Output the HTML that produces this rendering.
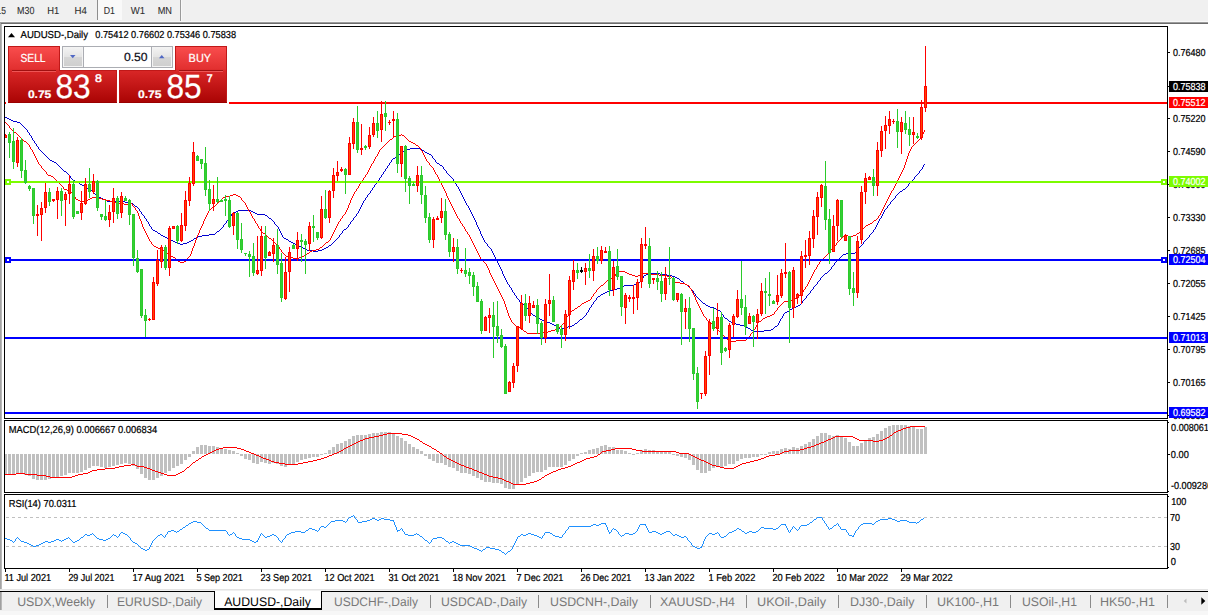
<!DOCTYPE html><html><head><meta charset="utf-8"><title>AUDUSD-,Daily</title>
<style>html,body{margin:0;padding:0;background:#fff;}body{width:1208px;height:615px;overflow:hidden;position:relative;font-family:"Liberation Sans", sans-serif;}svg{position:absolute;left:0;top:0;display:block}text{font-family:"Liberation Sans", sans-serif;white-space:pre;text-rendering:geometricPrecision}</style>
</head><body>
<svg width="1208" height="615" viewBox="0 0 1208 615">
<defs>
<linearGradient id="gr" x1="0" y1="0" x2="0" y2="1"><stop offset="0" stop-color="#f74a4a"/><stop offset="0.45" stop-color="#dc2626"/><stop offset="1" stop-color="#a80404"/></linearGradient>
<linearGradient id="gb" x1="0" y1="0" x2="0" y2="1"><stop offset="0" stop-color="#f2f2f2"/><stop offset="0.5" stop-color="#e4e4e4"/><stop offset="0.5" stop-color="#d6d6d6"/><stop offset="1" stop-color="#cfcfcf"/></linearGradient>
<linearGradient id="gt" x1="0" y1="0" x2="0" y2="1"><stop offset="0" stop-color="#b4b4b4"/><stop offset="1" stop-color="#6a6a6a"/></linearGradient>
</defs>
<g shape-rendering="crispEdges">
<rect x="0" y="0" width="1208" height="615" fill="#fff"/>
<rect x="0" y="0" width="1208" height="22" fill="#f0f0f0"/>
<rect x="98" y="0" width="24" height="20" fill="#f9f9f9"/>
<rect x="97" y="0" width="1" height="20" fill="#8e8e8e"/>
<rect x="180" y="0" width="1" height="22" fill="#9a9a9a"/>
<rect x="181" y="0" width="1" height="21" fill="#f8f8f8"/>
<rect x="0" y="21" width="1208" height="1" fill="#f8f8f8"/>
<rect x="0" y="22" width="1208" height="1" fill="#9c9c9c"/>
<rect x="0" y="23" width="1208" height="1" fill="#6c6c6c"/>
<rect x="0" y="23" width="1" height="567" fill="#a4a4a4"/>
<rect x="1" y="24" width="1" height="565" fill="#b8b8b8"/>
<rect x="0" y="589" width="1208" height="1" fill="#e4e4e4"/>
<rect x="0" y="590" width="1208" height="1" fill="#f0f0f0"/>
<rect x="0" y="591" width="1208" height="1" fill="#000"/>
<rect x="0" y="592" width="1208" height="19" fill="#f0f0f0"/>
<rect x="0" y="611" width="1208" height="4" fill="#f7f7f7"/>
<rect x="0" y="592" width="1" height="18" fill="#a0a0a0"/>
<rect x="1" y="592" width="1" height="18" fill="#b8b8b8"/>
<rect x="214" y="591" width="108" height="18" fill="#fff"/>
<rect x="214" y="591" width="1" height="19" fill="#000"/>
<rect x="321" y="591" width="1" height="19" fill="#000"/>
<rect x="214" y="608" width="108" height="2" fill="#000"/>
<rect x="4" y="26" width="1164" height="1" fill="#000"/>
<rect x="4" y="418" width="1164" height="1" fill="#000"/>
<rect x="4" y="26" width="1" height="393" fill="#000"/>
<rect x="1167" y="26" width="1" height="393" fill="#000"/>
<rect x="4" y="420" width="1164" height="1" fill="#000"/>
<rect x="4" y="492" width="1164" height="1" fill="#000"/>
<rect x="4" y="420" width="1" height="73" fill="#000"/>
<rect x="1167" y="420" width="1" height="73" fill="#000"/>
<rect x="4" y="494" width="1164" height="1" fill="#000"/>
<rect x="4" y="568" width="1164" height="1" fill="#000"/>
<rect x="4" y="494" width="1" height="75" fill="#000"/>
<rect x="1167" y="494" width="1" height="75" fill="#000"/>
</g>
<clipPath id="cm"><rect x="5" y="27" width="1162" height="391"/></clipPath>
<g clip-path="url(#cm)">
<path d="M5 117.5h2M7 118.5h2M9 119.5h2M11 120.5h2M13 121.5h4M17 122.5h3M20 123.5h1M21 124.5h1M22 125.5h1M23 126.5h1M24 127.5h1M25 128.5h1M26 129.5h1M27 130.5h1M27 131.5h1M28 132.5h1M29 133.5h1M29 134.5h1M30 135.5h1M31 136.5h1M31 137.5h1M32 138.5h1M32 139.5h1M33 140.5h1M34 141.5h1M34 142.5h1M35 143.5h1M36 144.5h1M36 145.5h1M37 146.5h1M38 147.5h1M38 148.5h1M410 148.5h10M39 149.5h1M407 149.5h3M420 149.5h2M40 150.5h1M405 150.5h2M422 150.5h2M41 151.5h1M403 151.5h2M424 151.5h1M42 152.5h1M402 152.5h1M425 152.5h2M43 153.5h1M400 153.5h2M427 153.5h2M44 154.5h1M399 154.5h1M429 154.5h2M45 155.5h1M398 155.5h1M431 155.5h1M46 156.5h1M396 156.5h2M432 156.5h1M47 157.5h1M395 157.5h1M432 157.5h1M48 158.5h1M393 158.5h2M433 158.5h1M49 159.5h1M392 159.5h1M434 159.5h1M50 160.5h2M391 160.5h1M435 160.5h1M52 161.5h2M391 161.5h1M435 161.5h1M54 162.5h2M390 162.5h1M436 162.5h1M56 163.5h1M389 163.5h1M437 163.5h2M57 164.5h1M389 164.5h1M439 164.5h1M924 164.5h1M58 165.5h1M388 165.5h1M440 165.5h2M923 165.5h1M59 166.5h1M387 166.5h1M442 166.5h1M923 166.5h1M60 167.5h1M387 167.5h1M443 167.5h1M922 167.5h1M61 168.5h1M386 168.5h1M443 168.5h1M922 168.5h1M62 169.5h1M385 169.5h1M444 169.5h1M921 169.5h1M63 170.5h1M385 170.5h1M445 170.5h1M920 170.5h1M64 171.5h2M384 171.5h1M446 171.5h1M919 171.5h1M66 172.5h1M383 172.5h1M446 172.5h1M919 172.5h1M67 173.5h1M383 173.5h1M447 173.5h1M918 173.5h1M68 174.5h1M382 174.5h1M448 174.5h1M917 174.5h1M69 175.5h1M381 175.5h1M449 175.5h1M916 175.5h1M70 176.5h1M381 176.5h1M450 176.5h1M915 176.5h1M70 177.5h1M380 177.5h1M451 177.5h1M914 177.5h1M71 178.5h1M379 178.5h1M452 178.5h1M914 178.5h1M72 179.5h1M379 179.5h1M453 179.5h1M913 179.5h1M73 180.5h2M378 180.5h1M453 180.5h1M912 180.5h1M75 181.5h2M377 181.5h1M454 181.5h1M911 181.5h1M77 182.5h2M377 182.5h1M454 182.5h1M910 182.5h1M79 183.5h1M376 183.5h1M455 183.5h1M909 183.5h1M80 184.5h2M375 184.5h1M456 184.5h1M908 184.5h1M82 185.5h2M374 185.5h1M456 185.5h1M908 185.5h1M84 186.5h1M374 186.5h1M457 186.5h1M907 186.5h1M85 187.5h2M373 187.5h1M458 187.5h1M906 187.5h1M87 188.5h2M372 188.5h1M458 188.5h1M905 188.5h1M89 189.5h1M372 189.5h1M459 189.5h1M903 189.5h2M90 190.5h2M371 190.5h1M459 190.5h1M902 190.5h1M92 191.5h1M370 191.5h1M460 191.5h1M900 191.5h2M93 192.5h1M370 192.5h1M460 192.5h1M899 192.5h1M94 193.5h1M369 193.5h1M461 193.5h1M898 193.5h1M95 194.5h2M368 194.5h1M461 194.5h1M897 194.5h1M97 195.5h1M367 195.5h1M462 195.5h1M896 195.5h1M98 196.5h1M367 196.5h1M462 196.5h1M895 196.5h1M99 197.5h2M366 197.5h1M463 197.5h1M895 197.5h1M101 198.5h2M365 198.5h1M463 198.5h1M894 198.5h1M103 199.5h2M365 199.5h1M464 199.5h1M893 199.5h1M105 200.5h2M364 200.5h1M464 200.5h1M892 200.5h1M107 201.5h18M363 201.5h1M465 201.5h1M891 201.5h1M125 202.5h6M363 202.5h1M465 202.5h1M890 202.5h1M131 203.5h2M362 203.5h1M466 203.5h1M890 203.5h1M133 204.5h1M362 204.5h1M466 204.5h1M889 204.5h1M134 205.5h1M361 205.5h1M467 205.5h1M888 205.5h1M135 206.5h2M361 206.5h1M468 206.5h1M887 206.5h1M137 207.5h1M360 207.5h1M468 207.5h1M887 207.5h1M138 208.5h1M360 208.5h1M469 208.5h1M886 208.5h1M139 209.5h1M359 209.5h1M469 209.5h1M885 209.5h1M139 210.5h1M238 210.5h13M359 210.5h1M470 210.5h1M884 210.5h1M140 211.5h1M236 211.5h2M251 211.5h2M358 211.5h1M470 211.5h1M884 211.5h1M141 212.5h1M234 212.5h2M253 212.5h2M358 212.5h1M471 212.5h1M883 212.5h1M141 213.5h1M232 213.5h2M255 213.5h2M357 213.5h1M471 213.5h1M883 213.5h1M142 214.5h1M231 214.5h1M257 214.5h8M356 214.5h1M472 214.5h1M882 214.5h1M143 215.5h1M231 215.5h1M265 215.5h2M356 215.5h1M472 215.5h1M882 215.5h1M144 216.5h1M230 216.5h1M267 216.5h1M355 216.5h1M473 216.5h1M881 216.5h1M144 217.5h1M229 217.5h1M268 217.5h1M354 217.5h1M473 217.5h1M881 217.5h1M145 218.5h1M229 218.5h1M269 218.5h2M353 218.5h1M474 218.5h1M880 218.5h1M146 219.5h1M228 219.5h1M271 219.5h1M353 219.5h1M474 219.5h1M879 219.5h1M146 220.5h1M227 220.5h1M272 220.5h1M352 220.5h1M475 220.5h1M879 220.5h1M147 221.5h1M226 221.5h1M273 221.5h1M351 221.5h1M475 221.5h1M878 221.5h1M148 222.5h1M226 222.5h1M274 222.5h1M350 222.5h1M476 222.5h1M878 222.5h1M148 223.5h1M225 223.5h1M274 223.5h1M350 223.5h1M476 223.5h1M877 223.5h1M149 224.5h1M224 224.5h1M275 224.5h1M349 224.5h1M476 224.5h1M877 224.5h1M149 225.5h1M223 225.5h1M276 225.5h1M348 225.5h1M477 225.5h1M876 225.5h1M150 226.5h1M223 226.5h1M277 226.5h1M348 226.5h1M477 226.5h1M876 226.5h1M151 227.5h1M222 227.5h1M278 227.5h1M347 227.5h1M478 227.5h1M875 227.5h1M151 228.5h1M221 228.5h1M278 228.5h1M346 228.5h1M478 228.5h1M875 228.5h1M152 229.5h1M220 229.5h1M279 229.5h1M344 229.5h2M479 229.5h1M874 229.5h1M153 230.5h2M219 230.5h1M279 230.5h1M343 230.5h1M479 230.5h1M873 230.5h1M155 231.5h2M217 231.5h2M280 231.5h1M342 231.5h1M480 231.5h1M873 231.5h1M157 232.5h1M216 232.5h1M280 232.5h1M342 232.5h1M480 232.5h1M872 232.5h1M158 233.5h2M215 233.5h1M281 233.5h1M341 233.5h1M480 233.5h1M871 233.5h1M160 234.5h1M209 234.5h6M281 234.5h1M340 234.5h1M481 234.5h1M870 234.5h1M161 235.5h2M202 235.5h7M282 235.5h1M339 235.5h1M481 235.5h1M869 235.5h1M163 236.5h2M198 236.5h4M282 236.5h1M339 236.5h1M482 236.5h1M869 236.5h1M165 237.5h2M196 237.5h2M283 237.5h1M338 237.5h1M482 237.5h1M868 237.5h1M167 238.5h2M194 238.5h2M284 238.5h2M337 238.5h1M483 238.5h1M867 238.5h1M169 239.5h2M193 239.5h1M286 239.5h2M336 239.5h1M483 239.5h1M866 239.5h1M171 240.5h2M191 240.5h2M288 240.5h1M335 240.5h1M484 240.5h1M865 240.5h1M173 241.5h2M189 241.5h2M289 241.5h2M334 241.5h1M484 241.5h1M864 241.5h1M175 242.5h3M187 242.5h2M291 242.5h2M333 242.5h1M485 242.5h1M863 242.5h1M178 243.5h2M183 243.5h4M293 243.5h2M332 243.5h1M486 243.5h1M863 243.5h1M180 244.5h3M295 244.5h2M331 244.5h1M487 244.5h1M862 244.5h1M297 245.5h2M329 245.5h2M487 245.5h1M861 245.5h1M299 246.5h2M328 246.5h1M488 246.5h1M860 246.5h1M301 247.5h2M326 247.5h2M489 247.5h1M859 247.5h1M303 248.5h2M324 248.5h2M490 248.5h1M858 248.5h1M305 249.5h2M322 249.5h2M491 249.5h1M857 249.5h1M307 250.5h6M318 250.5h4M491 250.5h1M856 250.5h1M313 251.5h5M492 251.5h1M856 251.5h1M492 252.5h1M855 252.5h1M493 253.5h1M846 253.5h9M493 254.5h1M843 254.5h3M494 255.5h1M842 255.5h1M494 256.5h1M841 256.5h1M495 257.5h1M840 257.5h1M495 258.5h1M839 258.5h1M496 259.5h1M838 259.5h1M496 260.5h1M837 260.5h1M497 261.5h1M836 261.5h1M497 262.5h1M835 262.5h1M498 263.5h1M834 263.5h1M498 264.5h1M834 264.5h1M499 265.5h1M833 265.5h1M499 266.5h1M832 266.5h1M500 267.5h1M831 267.5h1M500 268.5h1M831 268.5h1M501 269.5h1M830 269.5h1M501 270.5h1M829 270.5h1M502 271.5h1M828 271.5h1M502 272.5h1M827 272.5h1M502 273.5h1M649 273.5h11M825 273.5h2M503 274.5h1M646 274.5h3M660 274.5h7M824 274.5h1M503 275.5h1M644 275.5h2M667 275.5h5M823 275.5h1M504 276.5h1M643 276.5h1M672 276.5h3M822 276.5h1M504 277.5h1M643 277.5h1M675 277.5h2M821 277.5h1M505 278.5h1M642 278.5h1M677 278.5h2M820 278.5h1M505 279.5h1M641 279.5h1M679 279.5h1M820 279.5h1M506 280.5h1M640 280.5h1M680 280.5h1M819 280.5h1M506 281.5h1M640 281.5h1M681 281.5h2M818 281.5h1M507 282.5h1M638 282.5h2M683 282.5h1M817 282.5h1M507 283.5h1M636 283.5h2M684 283.5h1M817 283.5h1M508 284.5h1M634 284.5h2M685 284.5h2M816 284.5h1M509 285.5h1M624 285.5h10M687 285.5h1M815 285.5h1M509 286.5h1M622 286.5h2M688 286.5h1M814 286.5h1M510 287.5h1M620 287.5h2M689 287.5h1M813 287.5h1M511 288.5h1M617 288.5h3M690 288.5h1M813 288.5h1M511 289.5h1M613 289.5h4M691 289.5h1M812 289.5h1M512 290.5h1M609 290.5h4M692 290.5h1M811 290.5h1M512 291.5h1M607 291.5h2M693 291.5h1M810 291.5h1M513 292.5h1M605 292.5h2M693 292.5h1M810 292.5h1M514 293.5h1M603 293.5h2M694 293.5h1M809 293.5h1M514 294.5h1M601 294.5h2M695 294.5h1M808 294.5h1M515 295.5h1M600 295.5h1M695 295.5h1M807 295.5h1M516 296.5h1M598 296.5h2M696 296.5h1M806 296.5h1M516 297.5h1M597 297.5h1M697 297.5h1M806 297.5h1M517 298.5h1M596 298.5h1M698 298.5h1M805 298.5h1M518 299.5h1M596 299.5h1M699 299.5h1M804 299.5h1M519 300.5h1M595 300.5h1M700 300.5h1M803 300.5h1M519 301.5h1M594 301.5h1M701 301.5h1M802 301.5h1M520 302.5h1M593 302.5h1M702 302.5h1M802 302.5h1M521 303.5h1M593 303.5h1M703 303.5h2M801 303.5h1M522 304.5h2M592 304.5h1M705 304.5h1M800 304.5h1M524 305.5h1M591 305.5h1M706 305.5h2M798 305.5h2M525 306.5h1M591 306.5h1M708 306.5h2M796 306.5h2M526 307.5h1M590 307.5h1M710 307.5h4M794 307.5h2M527 308.5h1M589 308.5h1M714 308.5h2M792 308.5h2M528 309.5h1M589 309.5h1M716 309.5h2M790 309.5h2M529 310.5h1M588 310.5h1M718 310.5h2M789 310.5h1M529 311.5h1M588 311.5h1M720 311.5h1M787 311.5h2M530 312.5h1M587 312.5h1M721 312.5h1M785 312.5h2M531 313.5h1M586 313.5h1M721 313.5h1M784 313.5h1M532 314.5h1M586 314.5h1M722 314.5h1M783 314.5h1M533 315.5h2M585 315.5h1M723 315.5h1M783 315.5h1M535 316.5h2M584 316.5h1M723 316.5h1M782 316.5h1M537 317.5h1M583 317.5h1M724 317.5h1M782 317.5h1M538 318.5h2M582 318.5h1M725 318.5h2M781 318.5h1M540 319.5h2M580 319.5h2M727 319.5h1M780 319.5h1M542 320.5h3M579 320.5h1M728 320.5h1M780 320.5h1M545 321.5h2M578 321.5h1M729 321.5h2M779 321.5h1M547 322.5h3M577 322.5h1M731 322.5h2M779 322.5h1M550 323.5h2M575 323.5h2M733 323.5h3M778 323.5h1M552 324.5h2M574 324.5h1M736 324.5h4M778 324.5h1M554 325.5h2M572 325.5h2M740 325.5h4M777 325.5h1M556 326.5h1M568 326.5h4M744 326.5h2M775 326.5h2M557 327.5h2M564 327.5h4M746 327.5h2M774 327.5h1M559 328.5h1M562 328.5h2M748 328.5h2M773 328.5h1M560 329.5h2M750 329.5h1M771 329.5h2M751 330.5h2M764 330.5h7M753 331.5h11" fill="none" stroke="#0000d0" stroke-width="1" shape-rendering="crispEdges"/>
<path d="M5 122.5h1M6 123.5h1M7 124.5h1M8 125.5h1M9 126.5h1M9 127.5h1M10 128.5h1M11 129.5h1M12 130.5h1M924 130.5h1M13 131.5h1M924 131.5h1M14 132.5h2M923 132.5h1M16 133.5h1M923 133.5h1M17 134.5h1M401 134.5h1M922 134.5h1M18 135.5h1M399 135.5h2M402 135.5h2M922 135.5h1M19 136.5h1M394 136.5h5M404 136.5h1M921 136.5h1M20 137.5h1M393 137.5h1M405 137.5h1M921 137.5h1M21 138.5h1M392 138.5h1M406 138.5h1M920 138.5h1M22 139.5h1M390 139.5h2M407 139.5h1M919 139.5h1M23 140.5h1M389 140.5h1M408 140.5h1M918 140.5h1M24 141.5h2M388 141.5h1M409 141.5h2M917 141.5h1M26 142.5h1M387 142.5h1M411 142.5h2M916 142.5h1M27 143.5h1M386 143.5h1M413 143.5h2M915 143.5h1M28 144.5h1M385 144.5h1M415 144.5h1M914 144.5h1M29 145.5h1M384 145.5h1M416 145.5h2M913 145.5h1M29 146.5h1M383 146.5h1M418 146.5h1M912 146.5h1M30 147.5h1M382 147.5h1M419 147.5h1M911 147.5h1M30 148.5h1M381 148.5h1M420 148.5h1M911 148.5h1M31 149.5h1M380 149.5h1M420 149.5h1M910 149.5h1M32 150.5h1M379 150.5h1M421 150.5h1M910 150.5h1M32 151.5h1M379 151.5h1M422 151.5h1M909 151.5h1M33 152.5h1M378 152.5h1M422 152.5h1M909 152.5h1M33 153.5h1M378 153.5h1M423 153.5h1M908 153.5h1M34 154.5h1M377 154.5h1M423 154.5h1M908 154.5h1M34 155.5h1M377 155.5h1M424 155.5h1M908 155.5h1M35 156.5h1M376 156.5h1M424 156.5h1M907 156.5h1M35 157.5h1M375 157.5h1M425 157.5h1M907 157.5h1M36 158.5h1M375 158.5h1M425 158.5h1M907 158.5h1M36 159.5h1M374 159.5h1M426 159.5h1M906 159.5h1M37 160.5h1M374 160.5h1M426 160.5h1M906 160.5h1M37 161.5h1M373 161.5h1M427 161.5h1M906 161.5h1M38 162.5h1M373 162.5h1M428 162.5h1M905 162.5h1M38 163.5h1M372 163.5h1M429 163.5h1M905 163.5h1M39 164.5h1M371 164.5h1M429 164.5h1M905 164.5h1M40 165.5h1M371 165.5h1M430 165.5h1M904 165.5h1M41 166.5h1M370 166.5h1M431 166.5h1M904 166.5h1M41 167.5h1M370 167.5h1M432 167.5h1M904 167.5h1M42 168.5h1M369 168.5h1M433 168.5h1M903 168.5h1M43 169.5h1M369 169.5h1M433 169.5h1M903 169.5h1M44 170.5h1M368 170.5h1M434 170.5h1M902 170.5h1M45 171.5h1M368 171.5h1M434 171.5h1M902 171.5h1M46 172.5h1M367 172.5h1M435 172.5h1M901 172.5h1M46 173.5h1M367 173.5h1M435 173.5h1M901 173.5h1M47 174.5h1M366 174.5h1M436 174.5h1M900 174.5h1M48 175.5h3M365 175.5h1M437 175.5h1M900 175.5h1M51 176.5h2M365 176.5h1M437 176.5h1M899 176.5h1M53 177.5h1M364 177.5h1M438 177.5h1M899 177.5h1M54 178.5h1M363 178.5h1M438 178.5h1M898 178.5h1M55 179.5h1M363 179.5h1M439 179.5h1M898 179.5h1M56 180.5h1M362 180.5h1M439 180.5h1M897 180.5h1M57 181.5h1M361 181.5h1M440 181.5h1M897 181.5h1M58 182.5h1M361 182.5h1M440 182.5h1M896 182.5h1M59 183.5h1M360 183.5h1M441 183.5h1M896 183.5h1M60 184.5h1M359 184.5h1M441 184.5h1M895 184.5h1M61 185.5h1M359 185.5h1M442 185.5h1M895 185.5h1M62 186.5h1M358 186.5h1M442 186.5h1M894 186.5h1M63 187.5h1M358 187.5h1M443 187.5h1M894 187.5h1M63 188.5h1M357 188.5h1M443 188.5h1M893 188.5h1M64 189.5h3M356 189.5h1M444 189.5h1M893 189.5h1M67 190.5h2M356 190.5h1M444 190.5h1M892 190.5h1M69 191.5h2M355 191.5h1M445 191.5h1M891 191.5h1M71 192.5h1M354 192.5h1M445 192.5h1M891 192.5h1M72 193.5h1M354 193.5h1M446 193.5h1M890 193.5h1M73 194.5h1M233 194.5h3M353 194.5h1M446 194.5h1M890 194.5h1M73 195.5h1M230 195.5h3M236 195.5h2M353 195.5h1M446 195.5h1M889 195.5h1M74 196.5h1M226 196.5h4M238 196.5h2M352 196.5h1M447 196.5h1M889 196.5h1M75 197.5h1M92 197.5h6M223 197.5h3M240 197.5h1M352 197.5h1M447 197.5h1M888 197.5h1M75 198.5h1M90 198.5h2M98 198.5h4M222 198.5h1M241 198.5h1M351 198.5h1M448 198.5h1M888 198.5h1M76 199.5h2M88 199.5h2M102 199.5h4M221 199.5h1M241 199.5h1M351 199.5h1M448 199.5h1M887 199.5h1M78 200.5h2M84 200.5h4M106 200.5h4M220 200.5h1M242 200.5h1M350 200.5h1M449 200.5h1M887 200.5h1M80 201.5h4M110 201.5h5M219 201.5h1M243 201.5h1M350 201.5h1M449 201.5h1M886 201.5h1M115 202.5h4M218 202.5h1M244 202.5h1M350 202.5h1M450 202.5h1M886 202.5h1M119 203.5h5M129 203.5h3M217 203.5h1M245 203.5h1M349 203.5h1M450 203.5h1M885 203.5h1M124 204.5h5M132 204.5h1M216 204.5h1M245 204.5h1M349 204.5h1M451 204.5h1M885 204.5h1M132 205.5h1M215 205.5h1M246 205.5h1M348 205.5h1M451 205.5h1M884 205.5h1M133 206.5h1M213 206.5h2M246 206.5h1M348 206.5h1M452 206.5h1M884 206.5h1M134 207.5h1M212 207.5h1M247 207.5h1M348 207.5h1M452 207.5h1M883 207.5h1M135 208.5h1M211 208.5h1M247 208.5h1M347 208.5h1M453 208.5h1M883 208.5h1M135 209.5h1M210 209.5h1M248 209.5h1M347 209.5h1M453 209.5h1M882 209.5h1M136 210.5h1M209 210.5h1M248 210.5h1M346 210.5h1M454 210.5h1M882 210.5h1M137 211.5h1M208 211.5h1M249 211.5h1M346 211.5h1M454 211.5h1M881 211.5h1M137 212.5h1M208 212.5h1M250 212.5h1M345 212.5h1M455 212.5h1M881 212.5h1M138 213.5h1M207 213.5h1M250 213.5h1M345 213.5h1M455 213.5h1M880 213.5h1M138 214.5h1M207 214.5h1M251 214.5h1M344 214.5h1M456 214.5h1M880 214.5h1M138 215.5h1M206 215.5h1M251 215.5h1M343 215.5h1M456 215.5h1M879 215.5h1M139 216.5h1M206 216.5h1M252 216.5h1M342 216.5h1M457 216.5h1M878 216.5h1M139 217.5h1M205 217.5h1M252 217.5h1M342 217.5h1M457 217.5h1M878 217.5h1M139 218.5h1M205 218.5h1M253 218.5h1M341 218.5h1M458 218.5h1M877 218.5h1M140 219.5h1M204 219.5h1M254 219.5h1M340 219.5h1M459 219.5h1M876 219.5h1M140 220.5h1M204 220.5h1M254 220.5h1M340 220.5h1M459 220.5h1M874 220.5h2M141 221.5h1M203 221.5h1M255 221.5h1M339 221.5h1M460 221.5h1M873 221.5h1M141 222.5h1M203 222.5h1M255 222.5h1M338 222.5h1M460 222.5h1M872 222.5h1M141 223.5h1M203 223.5h1M256 223.5h1M338 223.5h1M461 223.5h1M870 223.5h2M142 224.5h1M202 224.5h1M257 224.5h1M337 224.5h1M462 224.5h1M868 224.5h2M142 225.5h1M202 225.5h1M257 225.5h1M337 225.5h1M462 225.5h1M866 225.5h2M142 226.5h1M201 226.5h1M258 226.5h1M336 226.5h1M463 226.5h1M865 226.5h1M143 227.5h1M201 227.5h1M258 227.5h1M336 227.5h1M464 227.5h1M864 227.5h1M143 228.5h1M200 228.5h1M259 228.5h1M335 228.5h1M464 228.5h1M863 228.5h1M144 229.5h1M200 229.5h1M260 229.5h1M335 229.5h1M465 229.5h1M862 229.5h1M144 230.5h1M199 230.5h1M260 230.5h1M334 230.5h1M465 230.5h1M861 230.5h1M145 231.5h1M199 231.5h1M261 231.5h1M334 231.5h1M466 231.5h1M860 231.5h1M145 232.5h1M199 232.5h1M262 232.5h1M333 232.5h1M467 232.5h1M859 232.5h1M146 233.5h1M198 233.5h1M263 233.5h2M333 233.5h1M467 233.5h1M857 233.5h2M146 234.5h1M198 234.5h1M265 234.5h1M332 234.5h1M468 234.5h1M856 234.5h1M147 235.5h1M197 235.5h1M266 235.5h1M332 235.5h1M469 235.5h1M844 235.5h4M853 235.5h3M147 236.5h1M197 236.5h1M267 236.5h1M331 236.5h1M469 236.5h1M843 236.5h1M848 236.5h5M148 237.5h1M196 237.5h1M268 237.5h1M331 237.5h1M470 237.5h1M842 237.5h1M148 238.5h1M196 238.5h1M269 238.5h2M330 238.5h1M470 238.5h1M841 238.5h1M149 239.5h1M196 239.5h1M271 239.5h1M330 239.5h1M471 239.5h1M840 239.5h1M149 240.5h1M195 240.5h1M272 240.5h1M329 240.5h1M471 240.5h1M839 240.5h1M150 241.5h1M195 241.5h1M273 241.5h1M328 241.5h1M472 241.5h1M838 241.5h1M151 242.5h1M195 242.5h1M274 242.5h1M326 242.5h2M472 242.5h1M837 242.5h1M151 243.5h1M194 243.5h1M275 243.5h1M325 243.5h1M473 243.5h1M836 243.5h1M152 244.5h1M194 244.5h1M276 244.5h1M324 244.5h1M473 244.5h1M836 244.5h1M153 245.5h1M194 245.5h1M277 245.5h1M323 245.5h1M474 245.5h1M835 245.5h1M154 246.5h2M193 246.5h1M278 246.5h1M322 246.5h1M474 246.5h1M834 246.5h1M156 247.5h2M193 247.5h1M279 247.5h1M320 247.5h2M475 247.5h1M833 247.5h1M158 248.5h2M192 248.5h1M279 248.5h1M319 248.5h1M475 248.5h1M832 248.5h1M160 249.5h2M192 249.5h1M280 249.5h1M316 249.5h3M476 249.5h1M831 249.5h1M162 250.5h2M192 250.5h1M281 250.5h1M312 250.5h4M476 250.5h1M830 250.5h1M164 251.5h2M191 251.5h1M281 251.5h1M310 251.5h2M477 251.5h1M830 251.5h1M166 252.5h1M191 252.5h1M282 252.5h1M309 252.5h1M477 252.5h1M829 252.5h1M167 253.5h1M191 253.5h1M283 253.5h1M307 253.5h2M478 253.5h1M828 253.5h1M168 254.5h1M190 254.5h1M284 254.5h1M306 254.5h1M478 254.5h1M827 254.5h1M169 255.5h1M190 255.5h1M285 255.5h1M304 255.5h2M479 255.5h1M826 255.5h1M170 256.5h3M189 256.5h1M286 256.5h3M302 256.5h2M479 256.5h1M825 256.5h1M173 257.5h2M188 257.5h1M289 257.5h4M299 257.5h3M480 257.5h1M824 257.5h1M175 258.5h1M187 258.5h1M293 258.5h6M480 258.5h1M823 258.5h1M176 259.5h1M187 259.5h1M481 259.5h1M822 259.5h1M177 260.5h1M186 260.5h1M482 260.5h1M821 260.5h1M178 261.5h2M184 261.5h2M483 261.5h1M820 261.5h1M180 262.5h4M484 262.5h1M819 262.5h1M485 263.5h1M819 263.5h1M486 264.5h1M818 264.5h1M486 265.5h1M817 265.5h1M487 266.5h1M817 266.5h1M487 267.5h1M816 267.5h1M488 268.5h1M816 268.5h1M488 269.5h1M815 269.5h1M489 270.5h1M814 270.5h1M489 271.5h1M618 271.5h7M814 271.5h1M489 272.5h1M617 272.5h1M625 272.5h2M813 272.5h1M490 273.5h1M616 273.5h1M627 273.5h2M642 273.5h9M813 273.5h1M490 274.5h1M615 274.5h1M629 274.5h3M640 274.5h2M651 274.5h8M812 274.5h1M491 275.5h1M615 275.5h1M632 275.5h3M638 275.5h2M659 275.5h8M812 275.5h1M491 276.5h1M614 276.5h1M635 276.5h3M667 276.5h4M811 276.5h1M492 277.5h1M613 277.5h1M671 277.5h1M811 277.5h1M492 278.5h1M611 278.5h2M672 278.5h1M810 278.5h1M493 279.5h1M609 279.5h2M672 279.5h1M810 279.5h1M493 280.5h1M607 280.5h2M673 280.5h1M809 280.5h1M494 281.5h1M606 281.5h1M674 281.5h1M809 281.5h1M494 282.5h1M605 282.5h1M675 282.5h5M808 282.5h1M495 283.5h1M604 283.5h1M680 283.5h5M808 283.5h1M495 284.5h1M603 284.5h1M685 284.5h2M807 284.5h1M496 285.5h1M601 285.5h2M687 285.5h2M807 285.5h1M496 286.5h1M600 286.5h1M689 286.5h1M806 286.5h1M497 287.5h1M599 287.5h1M689 287.5h1M805 287.5h1M497 288.5h1M598 288.5h1M690 288.5h1M805 288.5h1M498 289.5h1M597 289.5h1M691 289.5h1M804 289.5h1M498 290.5h1M596 290.5h1M691 290.5h1M803 290.5h1M499 291.5h1M596 291.5h1M692 291.5h1M803 291.5h1M499 292.5h1M595 292.5h1M692 292.5h1M802 292.5h1M500 293.5h1M594 293.5h1M693 293.5h1M801 293.5h1M500 294.5h1M593 294.5h1M693 294.5h1M800 294.5h1M501 295.5h1M593 295.5h1M694 295.5h1M799 295.5h1M501 296.5h1M592 296.5h1M694 296.5h1M798 296.5h1M502 297.5h1M591 297.5h1M695 297.5h1M797 297.5h1M502 298.5h1M591 298.5h1M695 298.5h1M795 298.5h2M503 299.5h1M590 299.5h1M695 299.5h1M793 299.5h2M503 300.5h1M588 300.5h2M696 300.5h1M788 300.5h5M504 301.5h1M586 301.5h2M696 301.5h1M784 301.5h4M504 302.5h1M584 302.5h2M697 302.5h1M783 302.5h1M504 303.5h1M582 303.5h2M697 303.5h1M782 303.5h1M505 304.5h1M581 304.5h1M698 304.5h1M781 304.5h1M505 305.5h1M580 305.5h1M698 305.5h1M780 305.5h1M505 306.5h1M578 306.5h2M699 306.5h1M779 306.5h1M506 307.5h1M577 307.5h1M699 307.5h1M778 307.5h1M506 308.5h1M575 308.5h2M700 308.5h1M777 308.5h1M506 309.5h1M574 309.5h1M700 309.5h1M777 309.5h1M507 310.5h1M572 310.5h2M701 310.5h1M776 310.5h1M507 311.5h1M571 311.5h1M701 311.5h1M775 311.5h1M507 312.5h1M570 312.5h1M702 312.5h1M774 312.5h1M508 313.5h1M569 313.5h1M702 313.5h1M774 313.5h1M508 314.5h1M569 314.5h1M703 314.5h1M772 314.5h2M508 315.5h1M568 315.5h1M703 315.5h1M770 315.5h2M509 316.5h1M567 316.5h1M704 316.5h1M767 316.5h3M509 317.5h1M566 317.5h1M705 317.5h1M765 317.5h2M510 318.5h1M566 318.5h1M706 318.5h1M763 318.5h2M510 319.5h1M565 319.5h1M706 319.5h1M762 319.5h1M511 320.5h1M565 320.5h1M707 320.5h1M761 320.5h1M511 321.5h1M564 321.5h1M708 321.5h1M759 321.5h2M512 322.5h1M564 322.5h1M709 322.5h2M758 322.5h1M513 323.5h1M563 323.5h1M711 323.5h1M757 323.5h1M514 324.5h1M562 324.5h1M712 324.5h1M757 324.5h1M515 325.5h1M561 325.5h1M713 325.5h1M756 325.5h1M516 326.5h2M560 326.5h1M714 326.5h1M756 326.5h1M518 327.5h2M559 327.5h1M715 327.5h1M755 327.5h1M520 328.5h2M558 328.5h1M716 328.5h1M755 328.5h1M522 329.5h1M555 329.5h3M717 329.5h1M754 329.5h1M523 330.5h1M551 330.5h4M718 330.5h1M753 330.5h1M524 331.5h2M548 331.5h3M719 331.5h1M753 331.5h1M526 332.5h1M543 332.5h5M720 332.5h1M752 332.5h1M527 333.5h16M721 333.5h1M751 333.5h1M722 334.5h1M750 334.5h1M723 335.5h1M750 335.5h1M724 336.5h1M749 336.5h1M725 337.5h1M748 337.5h1M726 338.5h1M747 338.5h1M727 339.5h2M746 339.5h1M729 340.5h2M736 340.5h10M731 341.5h5" fill="none" stroke="#ff0000" stroke-width="1" shape-rendering="crispEdges"/>
<g shape-rendering="crispEdges">
<rect x="229" y="102" width="938" height="2" fill="#ff0000"/><rect x="5" y="102" width="1" height="2" fill="#ff0000"/>
<rect x="5" y="181" width="1162" height="2" fill="#7cfc00"/>
<rect x="5" y="259" width="1162" height="2" fill="#0000ff"/>
<rect x="5" y="337" width="1162" height="2" fill="#0000ff"/>
<rect x="5" y="412" width="1162" height="2" fill="#0000ff"/>
<rect x="5" y="179" width="6" height="6" fill="#7cfc00"/><rect x="7" y="181" width="2" height="2" fill="#fff"/>
<rect x="1161" y="179" width="6" height="6" fill="#7cfc00"/><rect x="1163" y="181" width="2" height="2" fill="#fff"/>
<rect x="5" y="257" width="6" height="6" fill="#0000ff"/><rect x="7" y="259" width="2" height="2" fill="#fff"/>
<rect x="1161" y="257" width="6" height="6" fill="#0000ff"/><rect x="1163" y="259" width="2" height="2" fill="#fff"/>
</g>
<g shape-rendering="crispEdges">
<rect x="5" y="134" width="1" height="4" fill="#ff0000"/>
<rect x="4" y="135" width="3" height="3" fill="#ff0000"/>
<rect x="5" y="136" width="1" height="1" fill="#ff4500"/>
<rect x="9" y="132" width="1" height="26" fill="#2bca2b"/>
<rect x="8" y="134" width="3" height="9" fill="#2bca2b"/>
<rect x="9" y="135" width="1" height="7" fill="#34cf34"/>
<rect x="13" y="128" width="1" height="41" fill="#2bca2b"/>
<rect x="12" y="141" width="3" height="21" fill="#2bca2b"/>
<rect x="13" y="142" width="1" height="19" fill="#34cf34"/>
<rect x="17" y="137" width="1" height="30" fill="#ff0000"/>
<rect x="16" y="140" width="3" height="23" fill="#ff0000"/>
<rect x="17" y="141" width="1" height="21" fill="#ff4500"/>
<rect x="21" y="138" width="1" height="40" fill="#2bca2b"/>
<rect x="20" y="140" width="3" height="31" fill="#2bca2b"/>
<rect x="21" y="141" width="1" height="29" fill="#34cf34"/>
<rect x="25" y="160" width="1" height="24" fill="#2bca2b"/>
<rect x="24" y="170" width="3" height="13" fill="#2bca2b"/>
<rect x="25" y="171" width="1" height="11" fill="#34cf34"/>
<rect x="29" y="185" width="1" height="6" fill="#2bca2b"/>
<rect x="28" y="186" width="3" height="3" fill="#2bca2b"/>
<rect x="29" y="187" width="1" height="1" fill="#34cf34"/>
<rect x="33" y="188" width="1" height="36" fill="#2bca2b"/>
<rect x="32" y="188" width="3" height="28" fill="#2bca2b"/>
<rect x="33" y="189" width="1" height="26" fill="#34cf34"/>
<rect x="37" y="205" width="1" height="31" fill="#ff0000"/>
<rect x="36" y="214" width="3" height="2" fill="#ff0000"/>
<rect x="41" y="202" width="1" height="39" fill="#ff0000"/>
<rect x="40" y="208" width="3" height="7" fill="#ff0000"/>
<rect x="41" y="209" width="1" height="5" fill="#ff4500"/>
<rect x="45" y="183" width="1" height="30" fill="#ff0000"/>
<rect x="44" y="192" width="3" height="16" fill="#ff0000"/>
<rect x="45" y="193" width="1" height="14" fill="#ff4500"/>
<rect x="49" y="188" width="1" height="18" fill="#2bca2b"/>
<rect x="48" y="192" width="3" height="10" fill="#2bca2b"/>
<rect x="49" y="193" width="1" height="8" fill="#34cf34"/>
<rect x="53" y="199" width="1" height="3" fill="#ff0000"/>
<rect x="52" y="199" width="3" height="2" fill="#ff0000"/>
<rect x="57" y="187" width="1" height="32" fill="#ff0000"/>
<rect x="56" y="191" width="3" height="9" fill="#ff0000"/>
<rect x="57" y="192" width="1" height="7" fill="#ff4500"/>
<rect x="61" y="188" width="1" height="28" fill="#2bca2b"/>
<rect x="60" y="191" width="3" height="10" fill="#2bca2b"/>
<rect x="61" y="192" width="1" height="8" fill="#34cf34"/>
<rect x="65" y="192" width="1" height="34" fill="#ff0000"/>
<rect x="64" y="194" width="3" height="6" fill="#ff0000"/>
<rect x="65" y="195" width="1" height="4" fill="#ff4500"/>
<rect x="69" y="175" width="1" height="29" fill="#ff0000"/>
<rect x="68" y="184" width="3" height="10" fill="#ff0000"/>
<rect x="69" y="185" width="1" height="8" fill="#ff4500"/>
<rect x="73" y="180" width="1" height="39" fill="#2bca2b"/>
<rect x="72" y="184" width="3" height="33" fill="#2bca2b"/>
<rect x="73" y="185" width="1" height="31" fill="#34cf34"/>
<rect x="77" y="211" width="1" height="3" fill="#2bca2b"/>
<rect x="76" y="211" width="3" height="3" fill="#2bca2b"/>
<rect x="77" y="212" width="1" height="1" fill="#34cf34"/>
<rect x="81" y="191" width="1" height="29" fill="#ff0000"/>
<rect x="80" y="203" width="3" height="10" fill="#ff0000"/>
<rect x="81" y="204" width="1" height="8" fill="#ff4500"/>
<rect x="85" y="178" width="1" height="27" fill="#ff0000"/>
<rect x="84" y="184" width="3" height="20" fill="#ff0000"/>
<rect x="85" y="185" width="1" height="18" fill="#ff4500"/>
<rect x="89" y="168" width="1" height="30" fill="#2bca2b"/>
<rect x="88" y="184" width="3" height="8" fill="#2bca2b"/>
<rect x="89" y="185" width="1" height="6" fill="#34cf34"/>
<rect x="93" y="174" width="1" height="20" fill="#ff0000"/>
<rect x="92" y="181" width="3" height="11" fill="#ff0000"/>
<rect x="93" y="182" width="1" height="9" fill="#ff4500"/>
<rect x="97" y="180" width="1" height="31" fill="#2bca2b"/>
<rect x="96" y="181" width="3" height="27" fill="#2bca2b"/>
<rect x="97" y="182" width="1" height="25" fill="#34cf34"/>
<rect x="101" y="214" width="1" height="6" fill="#2bca2b"/>
<rect x="100" y="214" width="3" height="3" fill="#2bca2b"/>
<rect x="101" y="215" width="1" height="1" fill="#34cf34"/>
<rect x="105" y="200" width="1" height="21" fill="#2bca2b"/>
<rect x="104" y="216" width="3" height="4" fill="#2bca2b"/>
<rect x="105" y="217" width="1" height="2" fill="#34cf34"/>
<rect x="109" y="205" width="1" height="22" fill="#ff0000"/>
<rect x="108" y="212" width="3" height="8" fill="#ff0000"/>
<rect x="109" y="213" width="1" height="6" fill="#ff4500"/>
<rect x="113" y="188" width="1" height="35" fill="#ff0000"/>
<rect x="112" y="198" width="3" height="14" fill="#ff0000"/>
<rect x="113" y="199" width="1" height="12" fill="#ff4500"/>
<rect x="117" y="196" width="1" height="23" fill="#2bca2b"/>
<rect x="116" y="198" width="3" height="16" fill="#2bca2b"/>
<rect x="117" y="199" width="1" height="14" fill="#34cf34"/>
<rect x="121" y="192" width="1" height="26" fill="#ff0000"/>
<rect x="120" y="196" width="3" height="17" fill="#ff0000"/>
<rect x="121" y="197" width="1" height="15" fill="#ff4500"/>
<rect x="125" y="196" width="1" height="5" fill="#2bca2b"/>
<rect x="124" y="198" width="3" height="3" fill="#2bca2b"/>
<rect x="125" y="199" width="1" height="1" fill="#34cf34"/>
<rect x="129" y="199" width="1" height="26" fill="#2bca2b"/>
<rect x="128" y="200" width="3" height="15" fill="#2bca2b"/>
<rect x="129" y="201" width="1" height="13" fill="#34cf34"/>
<rect x="133" y="214" width="1" height="52" fill="#2bca2b"/>
<rect x="132" y="214" width="3" height="44" fill="#2bca2b"/>
<rect x="133" y="215" width="1" height="42" fill="#34cf34"/>
<rect x="137" y="250" width="1" height="23" fill="#2bca2b"/>
<rect x="136" y="258" width="3" height="14" fill="#2bca2b"/>
<rect x="137" y="259" width="1" height="12" fill="#34cf34"/>
<rect x="141" y="269" width="1" height="49" fill="#2bca2b"/>
<rect x="140" y="269" width="3" height="47" fill="#2bca2b"/>
<rect x="141" y="270" width="1" height="45" fill="#34cf34"/>
<rect x="145" y="309" width="1" height="28" fill="#2bca2b"/>
<rect x="144" y="315" width="3" height="6" fill="#2bca2b"/>
<rect x="145" y="316" width="1" height="4" fill="#34cf34"/>
<rect x="149" y="318" width="1" height="3" fill="#ff0000"/>
<rect x="148" y="319" width="3" height="1" fill="#ff0000"/>
<rect x="153" y="277" width="1" height="43" fill="#ff0000"/>
<rect x="152" y="282" width="3" height="38" fill="#ff0000"/>
<rect x="153" y="283" width="1" height="36" fill="#ff4500"/>
<rect x="157" y="250" width="1" height="36" fill="#ff0000"/>
<rect x="156" y="260" width="3" height="24" fill="#ff0000"/>
<rect x="157" y="261" width="1" height="22" fill="#ff4500"/>
<rect x="161" y="245" width="1" height="23" fill="#ff0000"/>
<rect x="160" y="247" width="3" height="15" fill="#ff0000"/>
<rect x="161" y="248" width="1" height="13" fill="#ff4500"/>
<rect x="165" y="245" width="1" height="25" fill="#2bca2b"/>
<rect x="164" y="247" width="3" height="21" fill="#2bca2b"/>
<rect x="165" y="248" width="1" height="19" fill="#34cf34"/>
<rect x="169" y="226" width="1" height="50" fill="#ff0000"/>
<rect x="168" y="228" width="3" height="40" fill="#ff0000"/>
<rect x="169" y="229" width="1" height="38" fill="#ff4500"/>
<rect x="173" y="226" width="1" height="3" fill="#ff0000"/>
<rect x="172" y="226" width="3" height="3" fill="#ff0000"/>
<rect x="173" y="227" width="1" height="1" fill="#ff4500"/>
<rect x="177" y="225" width="1" height="19" fill="#2bca2b"/>
<rect x="176" y="226" width="3" height="15" fill="#2bca2b"/>
<rect x="177" y="227" width="1" height="13" fill="#34cf34"/>
<rect x="181" y="213" width="1" height="29" fill="#ff0000"/>
<rect x="180" y="225" width="3" height="16" fill="#ff0000"/>
<rect x="181" y="226" width="1" height="14" fill="#ff4500"/>
<rect x="185" y="191" width="1" height="40" fill="#ff0000"/>
<rect x="184" y="200" width="3" height="26" fill="#ff0000"/>
<rect x="185" y="201" width="1" height="24" fill="#ff4500"/>
<rect x="189" y="177" width="1" height="29" fill="#ff0000"/>
<rect x="188" y="183" width="3" height="18" fill="#ff0000"/>
<rect x="189" y="184" width="1" height="16" fill="#ff4500"/>
<rect x="193" y="142" width="1" height="44" fill="#ff0000"/>
<rect x="192" y="152" width="3" height="32" fill="#ff0000"/>
<rect x="193" y="153" width="1" height="30" fill="#ff4500"/>
<rect x="197" y="155" width="1" height="6" fill="#2bca2b"/>
<rect x="196" y="156" width="3" height="5" fill="#2bca2b"/>
<rect x="197" y="157" width="1" height="3" fill="#34cf34"/>
<rect x="201" y="159" width="1" height="10" fill="#2bca2b"/>
<rect x="200" y="159" width="3" height="5" fill="#2bca2b"/>
<rect x="201" y="160" width="1" height="3" fill="#34cf34"/>
<rect x="205" y="147" width="1" height="49" fill="#2bca2b"/>
<rect x="204" y="163" width="3" height="27" fill="#2bca2b"/>
<rect x="205" y="164" width="1" height="25" fill="#34cf34"/>
<rect x="209" y="180" width="1" height="31" fill="#2bca2b"/>
<rect x="208" y="189" width="3" height="15" fill="#2bca2b"/>
<rect x="209" y="190" width="1" height="13" fill="#34cf34"/>
<rect x="213" y="185" width="1" height="26" fill="#ff0000"/>
<rect x="212" y="199" width="3" height="5" fill="#ff0000"/>
<rect x="213" y="200" width="1" height="3" fill="#ff4500"/>
<rect x="217" y="177" width="1" height="26" fill="#2bca2b"/>
<rect x="216" y="199" width="3" height="3" fill="#2bca2b"/>
<rect x="217" y="200" width="1" height="1" fill="#34cf34"/>
<rect x="221" y="199" width="1" height="3" fill="#2bca2b"/>
<rect x="220" y="200" width="3" height="2" fill="#2bca2b"/>
<rect x="225" y="195" width="1" height="21" fill="#2bca2b"/>
<rect x="224" y="199" width="3" height="2" fill="#2bca2b"/>
<rect x="229" y="196" width="1" height="32" fill="#2bca2b"/>
<rect x="228" y="200" width="3" height="27" fill="#2bca2b"/>
<rect x="229" y="201" width="1" height="25" fill="#34cf34"/>
<rect x="233" y="212" width="1" height="23" fill="#ff0000"/>
<rect x="232" y="213" width="3" height="13" fill="#ff0000"/>
<rect x="233" y="214" width="1" height="11" fill="#ff4500"/>
<rect x="237" y="212" width="1" height="37" fill="#2bca2b"/>
<rect x="236" y="213" width="3" height="27" fill="#2bca2b"/>
<rect x="237" y="214" width="1" height="25" fill="#34cf34"/>
<rect x="241" y="223" width="1" height="30" fill="#2bca2b"/>
<rect x="240" y="239" width="3" height="11" fill="#2bca2b"/>
<rect x="241" y="240" width="1" height="9" fill="#34cf34"/>
<rect x="245" y="253" width="1" height="3" fill="#2bca2b"/>
<rect x="244" y="253" width="3" height="1" fill="#2bca2b"/>
<rect x="249" y="251" width="1" height="26" fill="#2bca2b"/>
<rect x="248" y="254" width="3" height="3" fill="#2bca2b"/>
<rect x="249" y="255" width="1" height="1" fill="#34cf34"/>
<rect x="253" y="243" width="1" height="33" fill="#2bca2b"/>
<rect x="252" y="256" width="3" height="17" fill="#2bca2b"/>
<rect x="253" y="257" width="1" height="15" fill="#34cf34"/>
<rect x="257" y="236" width="1" height="39" fill="#ff0000"/>
<rect x="256" y="270" width="3" height="4" fill="#ff0000"/>
<rect x="257" y="271" width="1" height="2" fill="#ff4500"/>
<rect x="261" y="226" width="1" height="50" fill="#ff0000"/>
<rect x="260" y="236" width="3" height="35" fill="#ff0000"/>
<rect x="261" y="237" width="1" height="33" fill="#ff4500"/>
<rect x="265" y="226" width="1" height="43" fill="#2bca2b"/>
<rect x="264" y="236" width="3" height="22" fill="#2bca2b"/>
<rect x="265" y="237" width="1" height="20" fill="#34cf34"/>
<rect x="269" y="251" width="1" height="5" fill="#ff0000"/>
<rect x="268" y="252" width="3" height="4" fill="#ff0000"/>
<rect x="269" y="253" width="1" height="2" fill="#ff4500"/>
<rect x="273" y="238" width="1" height="24" fill="#ff0000"/>
<rect x="272" y="245" width="3" height="9" fill="#ff0000"/>
<rect x="273" y="246" width="1" height="7" fill="#ff4500"/>
<rect x="277" y="229" width="1" height="45" fill="#2bca2b"/>
<rect x="276" y="245" width="3" height="20" fill="#2bca2b"/>
<rect x="277" y="246" width="1" height="18" fill="#34cf34"/>
<rect x="281" y="253" width="1" height="49" fill="#2bca2b"/>
<rect x="280" y="263" width="3" height="35" fill="#2bca2b"/>
<rect x="281" y="264" width="1" height="33" fill="#34cf34"/>
<rect x="285" y="257" width="1" height="43" fill="#ff0000"/>
<rect x="284" y="272" width="3" height="27" fill="#ff0000"/>
<rect x="285" y="273" width="1" height="25" fill="#ff4500"/>
<rect x="289" y="247" width="1" height="45" fill="#ff0000"/>
<rect x="288" y="252" width="3" height="20" fill="#ff0000"/>
<rect x="289" y="253" width="1" height="18" fill="#ff4500"/>
<rect x="293" y="244" width="1" height="5" fill="#2bca2b"/>
<rect x="292" y="245" width="3" height="4" fill="#2bca2b"/>
<rect x="293" y="246" width="1" height="2" fill="#34cf34"/>
<rect x="297" y="232" width="1" height="29" fill="#ff0000"/>
<rect x="296" y="240" width="3" height="9" fill="#ff0000"/>
<rect x="297" y="241" width="1" height="7" fill="#ff4500"/>
<rect x="301" y="234" width="1" height="28" fill="#2bca2b"/>
<rect x="300" y="240" width="3" height="2" fill="#2bca2b"/>
<rect x="305" y="239" width="1" height="35" fill="#2bca2b"/>
<rect x="304" y="241" width="3" height="4" fill="#2bca2b"/>
<rect x="305" y="242" width="1" height="2" fill="#34cf34"/>
<rect x="309" y="222" width="1" height="29" fill="#ff0000"/>
<rect x="308" y="226" width="3" height="18" fill="#ff0000"/>
<rect x="309" y="227" width="1" height="16" fill="#ff4500"/>
<rect x="313" y="215" width="1" height="27" fill="#2bca2b"/>
<rect x="312" y="226" width="3" height="2" fill="#2bca2b"/>
<rect x="317" y="232" width="1" height="8" fill="#2bca2b"/>
<rect x="316" y="232" width="3" height="6" fill="#2bca2b"/>
<rect x="317" y="233" width="1" height="4" fill="#34cf34"/>
<rect x="321" y="196" width="1" height="43" fill="#ff0000"/>
<rect x="320" y="209" width="3" height="29" fill="#ff0000"/>
<rect x="321" y="210" width="1" height="27" fill="#ff4500"/>
<rect x="325" y="190" width="1" height="29" fill="#2bca2b"/>
<rect x="324" y="209" width="3" height="9" fill="#2bca2b"/>
<rect x="325" y="210" width="1" height="7" fill="#34cf34"/>
<rect x="329" y="190" width="1" height="33" fill="#ff0000"/>
<rect x="328" y="191" width="3" height="27" fill="#ff0000"/>
<rect x="329" y="192" width="1" height="25" fill="#ff4500"/>
<rect x="333" y="168" width="1" height="30" fill="#ff0000"/>
<rect x="332" y="175" width="3" height="16" fill="#ff0000"/>
<rect x="333" y="176" width="1" height="14" fill="#ff4500"/>
<rect x="337" y="161" width="1" height="20" fill="#ff0000"/>
<rect x="336" y="172" width="3" height="4" fill="#ff0000"/>
<rect x="337" y="173" width="1" height="2" fill="#ff4500"/>
<rect x="341" y="167" width="1" height="5" fill="#ff0000"/>
<rect x="340" y="169" width="3" height="2" fill="#ff0000"/>
<rect x="345" y="168" width="1" height="26" fill="#2bca2b"/>
<rect x="344" y="169" width="3" height="6" fill="#2bca2b"/>
<rect x="345" y="170" width="1" height="4" fill="#34cf34"/>
<rect x="349" y="137" width="1" height="38" fill="#ff0000"/>
<rect x="348" y="143" width="3" height="32" fill="#ff0000"/>
<rect x="349" y="144" width="1" height="30" fill="#ff4500"/>
<rect x="353" y="118" width="1" height="31" fill="#ff0000"/>
<rect x="352" y="122" width="3" height="22" fill="#ff0000"/>
<rect x="353" y="123" width="1" height="20" fill="#ff4500"/>
<rect x="357" y="106" width="1" height="47" fill="#2bca2b"/>
<rect x="356" y="122" width="3" height="28" fill="#2bca2b"/>
<rect x="357" y="123" width="1" height="26" fill="#34cf34"/>
<rect x="361" y="124" width="1" height="31" fill="#ff0000"/>
<rect x="360" y="148" width="3" height="2" fill="#ff0000"/>
<rect x="365" y="145" width="1" height="5" fill="#2bca2b"/>
<rect x="364" y="146" width="3" height="2" fill="#2bca2b"/>
<rect x="369" y="127" width="1" height="22" fill="#ff0000"/>
<rect x="368" y="135" width="3" height="12" fill="#ff0000"/>
<rect x="369" y="136" width="1" height="10" fill="#ff4500"/>
<rect x="373" y="117" width="1" height="20" fill="#ff0000"/>
<rect x="372" y="123" width="3" height="12" fill="#ff0000"/>
<rect x="373" y="124" width="1" height="10" fill="#ff4500"/>
<rect x="377" y="111" width="1" height="27" fill="#2bca2b"/>
<rect x="376" y="123" width="3" height="8" fill="#2bca2b"/>
<rect x="377" y="124" width="1" height="6" fill="#34cf34"/>
<rect x="381" y="101" width="1" height="41" fill="#ff0000"/>
<rect x="380" y="114" width="3" height="16" fill="#ff0000"/>
<rect x="381" y="115" width="1" height="14" fill="#ff4500"/>
<rect x="385" y="101" width="1" height="30" fill="#2bca2b"/>
<rect x="384" y="113" width="3" height="4" fill="#2bca2b"/>
<rect x="385" y="114" width="1" height="2" fill="#34cf34"/>
<rect x="389" y="120" width="1" height="5" fill="#ff0000"/>
<rect x="388" y="122" width="3" height="1" fill="#ff0000"/>
<rect x="393" y="111" width="1" height="26" fill="#ff0000"/>
<rect x="392" y="119" width="3" height="2" fill="#ff0000"/>
<rect x="397" y="113" width="1" height="60" fill="#2bca2b"/>
<rect x="396" y="119" width="3" height="45" fill="#2bca2b"/>
<rect x="397" y="120" width="1" height="43" fill="#34cf34"/>
<rect x="401" y="146" width="1" height="31" fill="#ff0000"/>
<rect x="400" y="146" width="3" height="18" fill="#ff0000"/>
<rect x="401" y="147" width="1" height="16" fill="#ff4500"/>
<rect x="405" y="145" width="1" height="47" fill="#2bca2b"/>
<rect x="404" y="146" width="3" height="33" fill="#2bca2b"/>
<rect x="405" y="147" width="1" height="31" fill="#34cf34"/>
<rect x="409" y="176" width="1" height="28" fill="#2bca2b"/>
<rect x="408" y="178" width="3" height="8" fill="#2bca2b"/>
<rect x="409" y="179" width="1" height="6" fill="#34cf34"/>
<rect x="413" y="182" width="1" height="4" fill="#2bca2b"/>
<rect x="412" y="184" width="3" height="2" fill="#2bca2b"/>
<rect x="417" y="166" width="1" height="26" fill="#ff0000"/>
<rect x="416" y="175" width="3" height="11" fill="#ff0000"/>
<rect x="417" y="176" width="1" height="9" fill="#ff4500"/>
<rect x="421" y="166" width="1" height="38" fill="#2bca2b"/>
<rect x="420" y="175" width="3" height="20" fill="#2bca2b"/>
<rect x="421" y="176" width="1" height="18" fill="#34cf34"/>
<rect x="425" y="186" width="1" height="37" fill="#2bca2b"/>
<rect x="424" y="195" width="3" height="23" fill="#2bca2b"/>
<rect x="425" y="196" width="1" height="21" fill="#34cf34"/>
<rect x="429" y="213" width="1" height="30" fill="#2bca2b"/>
<rect x="428" y="217" width="3" height="23" fill="#2bca2b"/>
<rect x="429" y="218" width="1" height="21" fill="#34cf34"/>
<rect x="433" y="217" width="1" height="31" fill="#ff0000"/>
<rect x="432" y="219" width="3" height="21" fill="#ff0000"/>
<rect x="433" y="220" width="1" height="19" fill="#ff4500"/>
<rect x="437" y="216" width="1" height="4" fill="#ff0000"/>
<rect x="436" y="218" width="3" height="2" fill="#ff0000"/>
<rect x="441" y="198" width="1" height="25" fill="#ff0000"/>
<rect x="440" y="211" width="3" height="7" fill="#ff0000"/>
<rect x="441" y="212" width="1" height="5" fill="#ff4500"/>
<rect x="445" y="199" width="1" height="41" fill="#2bca2b"/>
<rect x="444" y="211" width="3" height="24" fill="#2bca2b"/>
<rect x="445" y="212" width="1" height="22" fill="#34cf34"/>
<rect x="449" y="232" width="1" height="25" fill="#2bca2b"/>
<rect x="448" y="234" width="3" height="18" fill="#2bca2b"/>
<rect x="449" y="235" width="1" height="16" fill="#34cf34"/>
<rect x="453" y="238" width="1" height="24" fill="#ff0000"/>
<rect x="452" y="247" width="3" height="5" fill="#ff0000"/>
<rect x="453" y="248" width="1" height="3" fill="#ff4500"/>
<rect x="457" y="239" width="1" height="35" fill="#2bca2b"/>
<rect x="456" y="247" width="3" height="22" fill="#2bca2b"/>
<rect x="457" y="248" width="1" height="20" fill="#34cf34"/>
<rect x="461" y="268" width="1" height="5" fill="#ff0000"/>
<rect x="460" y="270" width="3" height="1" fill="#ff0000"/>
<rect x="465" y="248" width="1" height="29" fill="#2bca2b"/>
<rect x="464" y="270" width="3" height="4" fill="#2bca2b"/>
<rect x="465" y="271" width="1" height="2" fill="#34cf34"/>
<rect x="469" y="268" width="1" height="16" fill="#2bca2b"/>
<rect x="468" y="272" width="3" height="4" fill="#2bca2b"/>
<rect x="469" y="273" width="1" height="2" fill="#34cf34"/>
<rect x="473" y="272" width="1" height="24" fill="#2bca2b"/>
<rect x="472" y="275" width="3" height="12" fill="#2bca2b"/>
<rect x="473" y="276" width="1" height="10" fill="#34cf34"/>
<rect x="477" y="282" width="1" height="20" fill="#2bca2b"/>
<rect x="476" y="286" width="3" height="16" fill="#2bca2b"/>
<rect x="477" y="287" width="1" height="14" fill="#34cf34"/>
<rect x="481" y="299" width="1" height="35" fill="#2bca2b"/>
<rect x="480" y="301" width="3" height="30" fill="#2bca2b"/>
<rect x="481" y="302" width="1" height="28" fill="#34cf34"/>
<rect x="485" y="316" width="1" height="15" fill="#ff0000"/>
<rect x="484" y="317" width="3" height="14" fill="#ff0000"/>
<rect x="485" y="318" width="1" height="12" fill="#ff4500"/>
<rect x="489" y="308" width="1" height="25" fill="#ff0000"/>
<rect x="488" y="315" width="3" height="3" fill="#ff0000"/>
<rect x="489" y="316" width="1" height="1" fill="#ff4500"/>
<rect x="493" y="302" width="1" height="56" fill="#2bca2b"/>
<rect x="492" y="315" width="3" height="12" fill="#2bca2b"/>
<rect x="493" y="316" width="1" height="10" fill="#34cf34"/>
<rect x="497" y="301" width="1" height="42" fill="#2bca2b"/>
<rect x="496" y="326" width="3" height="10" fill="#2bca2b"/>
<rect x="497" y="327" width="1" height="8" fill="#34cf34"/>
<rect x="501" y="329" width="1" height="19" fill="#2bca2b"/>
<rect x="500" y="335" width="3" height="12" fill="#2bca2b"/>
<rect x="501" y="336" width="1" height="10" fill="#34cf34"/>
<rect x="505" y="344" width="1" height="50" fill="#2bca2b"/>
<rect x="504" y="346" width="3" height="48" fill="#2bca2b"/>
<rect x="505" y="347" width="1" height="46" fill="#34cf34"/>
<rect x="509" y="381" width="1" height="11" fill="#ff0000"/>
<rect x="508" y="382" width="3" height="10" fill="#ff0000"/>
<rect x="509" y="383" width="1" height="8" fill="#ff4500"/>
<rect x="513" y="363" width="1" height="25" fill="#ff0000"/>
<rect x="512" y="366" width="3" height="17" fill="#ff0000"/>
<rect x="513" y="367" width="1" height="15" fill="#ff4500"/>
<rect x="517" y="326" width="1" height="46" fill="#ff0000"/>
<rect x="516" y="326" width="3" height="40" fill="#ff0000"/>
<rect x="517" y="327" width="1" height="38" fill="#ff4500"/>
<rect x="521" y="295" width="1" height="35" fill="#ff0000"/>
<rect x="520" y="303" width="3" height="26" fill="#ff0000"/>
<rect x="521" y="304" width="1" height="24" fill="#ff4500"/>
<rect x="525" y="294" width="1" height="27" fill="#2bca2b"/>
<rect x="524" y="303" width="3" height="13" fill="#2bca2b"/>
<rect x="525" y="304" width="1" height="11" fill="#34cf34"/>
<rect x="529" y="296" width="1" height="27" fill="#ff0000"/>
<rect x="528" y="303" width="3" height="13" fill="#ff0000"/>
<rect x="529" y="304" width="1" height="11" fill="#ff4500"/>
<rect x="533" y="301" width="1" height="7" fill="#ff0000"/>
<rect x="532" y="305" width="3" height="3" fill="#ff0000"/>
<rect x="533" y="306" width="1" height="1" fill="#ff4500"/>
<rect x="537" y="299" width="1" height="35" fill="#2bca2b"/>
<rect x="536" y="305" width="3" height="19" fill="#2bca2b"/>
<rect x="537" y="306" width="1" height="17" fill="#34cf34"/>
<rect x="541" y="321" width="1" height="24" fill="#2bca2b"/>
<rect x="540" y="323" width="3" height="15" fill="#2bca2b"/>
<rect x="541" y="324" width="1" height="13" fill="#34cf34"/>
<rect x="545" y="299" width="1" height="44" fill="#ff0000"/>
<rect x="544" y="304" width="3" height="34" fill="#ff0000"/>
<rect x="545" y="305" width="1" height="32" fill="#ff4500"/>
<rect x="549" y="274" width="1" height="42" fill="#ff0000"/>
<rect x="548" y="300" width="3" height="4" fill="#ff0000"/>
<rect x="549" y="301" width="1" height="2" fill="#ff4500"/>
<rect x="553" y="296" width="1" height="26" fill="#2bca2b"/>
<rect x="552" y="300" width="3" height="22" fill="#2bca2b"/>
<rect x="553" y="301" width="1" height="20" fill="#34cf34"/>
<rect x="557" y="324" width="1" height="10" fill="#2bca2b"/>
<rect x="556" y="324" width="3" height="8" fill="#2bca2b"/>
<rect x="557" y="325" width="1" height="6" fill="#34cf34"/>
<rect x="561" y="325" width="1" height="23" fill="#2bca2b"/>
<rect x="560" y="329" width="3" height="6" fill="#2bca2b"/>
<rect x="561" y="330" width="1" height="4" fill="#34cf34"/>
<rect x="565" y="310" width="1" height="31" fill="#ff0000"/>
<rect x="564" y="314" width="3" height="21" fill="#ff0000"/>
<rect x="565" y="315" width="1" height="19" fill="#ff4500"/>
<rect x="569" y="276" width="1" height="53" fill="#ff0000"/>
<rect x="568" y="280" width="3" height="35" fill="#ff0000"/>
<rect x="569" y="281" width="1" height="33" fill="#ff4500"/>
<rect x="573" y="260" width="1" height="30" fill="#ff0000"/>
<rect x="572" y="270" width="3" height="12" fill="#ff0000"/>
<rect x="573" y="271" width="1" height="10" fill="#ff4500"/>
<rect x="577" y="263" width="1" height="16" fill="#2bca2b"/>
<rect x="576" y="270" width="3" height="3" fill="#2bca2b"/>
<rect x="577" y="271" width="1" height="1" fill="#34cf34"/>
<rect x="581" y="267" width="1" height="6" fill="#000000"/>
<rect x="580" y="270" width="3" height="2" fill="#000000"/>
<rect x="585" y="263" width="1" height="22" fill="#ff0000"/>
<rect x="584" y="268" width="3" height="4" fill="#ff0000"/>
<rect x="585" y="269" width="1" height="2" fill="#ff4500"/>
<rect x="589" y="254" width="1" height="24" fill="#2bca2b"/>
<rect x="588" y="268" width="3" height="3" fill="#2bca2b"/>
<rect x="589" y="269" width="1" height="1" fill="#34cf34"/>
<rect x="593" y="249" width="1" height="32" fill="#ff0000"/>
<rect x="592" y="256" width="3" height="15" fill="#ff0000"/>
<rect x="593" y="257" width="1" height="13" fill="#ff4500"/>
<rect x="597" y="247" width="1" height="17" fill="#2bca2b"/>
<rect x="596" y="256" width="3" height="5" fill="#2bca2b"/>
<rect x="597" y="257" width="1" height="3" fill="#34cf34"/>
<rect x="601" y="246" width="1" height="18" fill="#ff0000"/>
<rect x="600" y="250" width="3" height="11" fill="#ff0000"/>
<rect x="601" y="251" width="1" height="9" fill="#ff4500"/>
<rect x="605" y="247" width="1" height="6" fill="#ff0000"/>
<rect x="604" y="251" width="3" height="2" fill="#ff0000"/>
<rect x="609" y="246" width="1" height="50" fill="#2bca2b"/>
<rect x="608" y="251" width="3" height="39" fill="#2bca2b"/>
<rect x="609" y="252" width="1" height="37" fill="#34cf34"/>
<rect x="613" y="261" width="1" height="35" fill="#ff0000"/>
<rect x="612" y="267" width="3" height="23" fill="#ff0000"/>
<rect x="613" y="268" width="1" height="21" fill="#ff4500"/>
<rect x="617" y="249" width="1" height="31" fill="#2bca2b"/>
<rect x="616" y="266" width="3" height="11" fill="#2bca2b"/>
<rect x="617" y="267" width="1" height="9" fill="#34cf34"/>
<rect x="621" y="276" width="1" height="40" fill="#2bca2b"/>
<rect x="620" y="276" width="3" height="31" fill="#2bca2b"/>
<rect x="621" y="277" width="1" height="29" fill="#34cf34"/>
<rect x="625" y="293" width="1" height="31" fill="#ff0000"/>
<rect x="624" y="295" width="3" height="13" fill="#ff0000"/>
<rect x="625" y="296" width="1" height="11" fill="#ff4500"/>
<rect x="629" y="295" width="1" height="7" fill="#ff0000"/>
<rect x="628" y="297" width="3" height="2" fill="#ff0000"/>
<rect x="633" y="285" width="1" height="29" fill="#ff0000"/>
<rect x="632" y="297" width="3" height="2" fill="#ff0000"/>
<rect x="637" y="279" width="1" height="31" fill="#ff0000"/>
<rect x="636" y="282" width="3" height="16" fill="#ff0000"/>
<rect x="637" y="283" width="1" height="14" fill="#ff4500"/>
<rect x="641" y="238" width="1" height="50" fill="#ff0000"/>
<rect x="640" y="244" width="3" height="38" fill="#ff0000"/>
<rect x="641" y="245" width="1" height="36" fill="#ff4500"/>
<rect x="645" y="227" width="1" height="22" fill="#ff0000"/>
<rect x="644" y="244" width="3" height="2" fill="#ff0000"/>
<rect x="649" y="238" width="1" height="50" fill="#2bca2b"/>
<rect x="648" y="246" width="3" height="38" fill="#2bca2b"/>
<rect x="649" y="247" width="1" height="36" fill="#34cf34"/>
<rect x="653" y="278" width="1" height="6" fill="#ff0000"/>
<rect x="652" y="278" width="3" height="2" fill="#ff0000"/>
<rect x="657" y="271" width="1" height="19" fill="#2bca2b"/>
<rect x="656" y="278" width="3" height="4" fill="#2bca2b"/>
<rect x="657" y="279" width="1" height="2" fill="#34cf34"/>
<rect x="661" y="272" width="1" height="30" fill="#2bca2b"/>
<rect x="660" y="281" width="3" height="13" fill="#2bca2b"/>
<rect x="661" y="282" width="1" height="11" fill="#34cf34"/>
<rect x="665" y="267" width="1" height="33" fill="#ff0000"/>
<rect x="664" y="278" width="3" height="16" fill="#ff0000"/>
<rect x="665" y="279" width="1" height="14" fill="#ff4500"/>
<rect x="669" y="247" width="1" height="38" fill="#2bca2b"/>
<rect x="668" y="278" width="3" height="1" fill="#2bca2b"/>
<rect x="673" y="277" width="1" height="24" fill="#2bca2b"/>
<rect x="672" y="278" width="3" height="22" fill="#2bca2b"/>
<rect x="673" y="279" width="1" height="20" fill="#34cf34"/>
<rect x="677" y="293" width="1" height="9" fill="#ff0000"/>
<rect x="676" y="293" width="3" height="7" fill="#ff0000"/>
<rect x="677" y="294" width="1" height="5" fill="#ff4500"/>
<rect x="681" y="293" width="1" height="52" fill="#2bca2b"/>
<rect x="680" y="294" width="3" height="18" fill="#2bca2b"/>
<rect x="681" y="295" width="1" height="16" fill="#34cf34"/>
<rect x="685" y="299" width="1" height="30" fill="#ff0000"/>
<rect x="684" y="308" width="3" height="4" fill="#ff0000"/>
<rect x="685" y="309" width="1" height="2" fill="#ff4500"/>
<rect x="689" y="297" width="1" height="45" fill="#2bca2b"/>
<rect x="688" y="308" width="3" height="21" fill="#2bca2b"/>
<rect x="689" y="309" width="1" height="19" fill="#34cf34"/>
<rect x="693" y="328" width="1" height="52" fill="#2bca2b"/>
<rect x="692" y="328" width="3" height="46" fill="#2bca2b"/>
<rect x="693" y="329" width="1" height="44" fill="#34cf34"/>
<rect x="697" y="367" width="1" height="42" fill="#2bca2b"/>
<rect x="696" y="373" width="3" height="29" fill="#2bca2b"/>
<rect x="697" y="374" width="1" height="27" fill="#34cf34"/>
<rect x="701" y="393" width="1" height="6" fill="#ff0000"/>
<rect x="700" y="393" width="3" height="1" fill="#ff0000"/>
<rect x="705" y="351" width="1" height="45" fill="#ff0000"/>
<rect x="704" y="356" width="3" height="38" fill="#ff0000"/>
<rect x="705" y="357" width="1" height="36" fill="#ff4500"/>
<rect x="709" y="319" width="1" height="56" fill="#ff0000"/>
<rect x="708" y="322" width="3" height="34" fill="#ff0000"/>
<rect x="709" y="323" width="1" height="32" fill="#ff4500"/>
<rect x="713" y="308" width="1" height="23" fill="#2bca2b"/>
<rect x="712" y="321" width="3" height="8" fill="#2bca2b"/>
<rect x="713" y="322" width="1" height="6" fill="#34cf34"/>
<rect x="717" y="303" width="1" height="32" fill="#ff0000"/>
<rect x="716" y="317" width="3" height="12" fill="#ff0000"/>
<rect x="717" y="318" width="1" height="10" fill="#ff4500"/>
<rect x="721" y="312" width="1" height="53" fill="#2bca2b"/>
<rect x="720" y="317" width="3" height="36" fill="#2bca2b"/>
<rect x="721" y="318" width="1" height="34" fill="#34cf34"/>
<rect x="725" y="347" width="1" height="5" fill="#2bca2b"/>
<rect x="724" y="348" width="3" height="3" fill="#2bca2b"/>
<rect x="725" y="349" width="1" height="1" fill="#34cf34"/>
<rect x="729" y="323" width="1" height="35" fill="#ff0000"/>
<rect x="728" y="325" width="3" height="25" fill="#ff0000"/>
<rect x="729" y="326" width="1" height="23" fill="#ff4500"/>
<rect x="733" y="314" width="1" height="23" fill="#ff0000"/>
<rect x="732" y="316" width="3" height="9" fill="#ff0000"/>
<rect x="733" y="317" width="1" height="7" fill="#ff4500"/>
<rect x="737" y="290" width="1" height="28" fill="#ff0000"/>
<rect x="736" y="299" width="3" height="18" fill="#ff0000"/>
<rect x="737" y="300" width="1" height="16" fill="#ff4500"/>
<rect x="741" y="261" width="1" height="54" fill="#2bca2b"/>
<rect x="740" y="299" width="3" height="9" fill="#2bca2b"/>
<rect x="741" y="300" width="1" height="7" fill="#34cf34"/>
<rect x="745" y="295" width="1" height="40" fill="#2bca2b"/>
<rect x="744" y="307" width="3" height="20" fill="#2bca2b"/>
<rect x="745" y="308" width="1" height="18" fill="#34cf34"/>
<rect x="749" y="313" width="1" height="11" fill="#ff0000"/>
<rect x="748" y="316" width="3" height="8" fill="#ff0000"/>
<rect x="749" y="317" width="1" height="6" fill="#ff4500"/>
<rect x="753" y="315" width="1" height="32" fill="#2bca2b"/>
<rect x="752" y="316" width="3" height="6" fill="#2bca2b"/>
<rect x="753" y="317" width="1" height="4" fill="#34cf34"/>
<rect x="757" y="309" width="1" height="30" fill="#ff0000"/>
<rect x="756" y="314" width="3" height="9" fill="#ff0000"/>
<rect x="757" y="315" width="1" height="7" fill="#ff4500"/>
<rect x="761" y="283" width="1" height="33" fill="#ff0000"/>
<rect x="760" y="291" width="3" height="23" fill="#ff0000"/>
<rect x="761" y="292" width="1" height="21" fill="#ff4500"/>
<rect x="765" y="278" width="1" height="36" fill="#2bca2b"/>
<rect x="764" y="291" width="3" height="2" fill="#2bca2b"/>
<rect x="769" y="272" width="1" height="34" fill="#2bca2b"/>
<rect x="768" y="294" width="3" height="2" fill="#2bca2b"/>
<rect x="773" y="300" width="1" height="4" fill="#2bca2b"/>
<rect x="772" y="301" width="3" height="3" fill="#2bca2b"/>
<rect x="773" y="302" width="1" height="1" fill="#34cf34"/>
<rect x="777" y="275" width="1" height="30" fill="#ff0000"/>
<rect x="776" y="295" width="3" height="7" fill="#ff0000"/>
<rect x="777" y="296" width="1" height="5" fill="#ff4500"/>
<rect x="781" y="269" width="1" height="29" fill="#ff0000"/>
<rect x="780" y="273" width="3" height="23" fill="#ff0000"/>
<rect x="781" y="274" width="1" height="21" fill="#ff4500"/>
<rect x="785" y="243" width="1" height="35" fill="#ff0000"/>
<rect x="784" y="272" width="3" height="2" fill="#ff0000"/>
<rect x="789" y="271" width="1" height="72" fill="#2bca2b"/>
<rect x="788" y="272" width="3" height="36" fill="#2bca2b"/>
<rect x="789" y="273" width="1" height="34" fill="#34cf34"/>
<rect x="793" y="267" width="1" height="51" fill="#ff0000"/>
<rect x="792" y="270" width="3" height="38" fill="#ff0000"/>
<rect x="793" y="271" width="1" height="36" fill="#ff4500"/>
<rect x="797" y="293" width="1" height="11" fill="#ff0000"/>
<rect x="796" y="294" width="3" height="4" fill="#ff0000"/>
<rect x="797" y="295" width="1" height="2" fill="#ff4500"/>
<rect x="801" y="251" width="1" height="53" fill="#ff0000"/>
<rect x="800" y="256" width="3" height="40" fill="#ff0000"/>
<rect x="801" y="257" width="1" height="38" fill="#ff4500"/>
<rect x="805" y="240" width="1" height="28" fill="#ff0000"/>
<rect x="804" y="255" width="3" height="2" fill="#ff0000"/>
<rect x="809" y="231" width="1" height="34" fill="#ff0000"/>
<rect x="808" y="238" width="3" height="18" fill="#ff0000"/>
<rect x="809" y="239" width="1" height="16" fill="#ff4500"/>
<rect x="813" y="210" width="1" height="38" fill="#ff0000"/>
<rect x="812" y="216" width="3" height="23" fill="#ff0000"/>
<rect x="813" y="217" width="1" height="21" fill="#ff4500"/>
<rect x="817" y="192" width="1" height="43" fill="#ff0000"/>
<rect x="816" y="197" width="3" height="20" fill="#ff0000"/>
<rect x="817" y="198" width="1" height="18" fill="#ff4500"/>
<rect x="821" y="184" width="1" height="23" fill="#ff0000"/>
<rect x="820" y="185" width="3" height="13" fill="#ff0000"/>
<rect x="821" y="186" width="1" height="11" fill="#ff4500"/>
<rect x="825" y="161" width="1" height="69" fill="#2bca2b"/>
<rect x="824" y="186" width="3" height="34" fill="#2bca2b"/>
<rect x="825" y="187" width="1" height="32" fill="#34cf34"/>
<rect x="829" y="209" width="1" height="55" fill="#2bca2b"/>
<rect x="828" y="219" width="3" height="34" fill="#2bca2b"/>
<rect x="829" y="220" width="1" height="32" fill="#34cf34"/>
<rect x="833" y="215" width="1" height="37" fill="#ff0000"/>
<rect x="832" y="226" width="3" height="26" fill="#ff0000"/>
<rect x="833" y="227" width="1" height="24" fill="#ff4500"/>
<rect x="837" y="199" width="1" height="42" fill="#ff0000"/>
<rect x="836" y="200" width="3" height="26" fill="#ff0000"/>
<rect x="837" y="201" width="1" height="24" fill="#ff4500"/>
<rect x="841" y="200" width="1" height="38" fill="#2bca2b"/>
<rect x="840" y="200" width="3" height="37" fill="#2bca2b"/>
<rect x="841" y="201" width="1" height="35" fill="#34cf34"/>
<rect x="845" y="234" width="1" height="7" fill="#ff0000"/>
<rect x="844" y="235" width="3" height="6" fill="#ff0000"/>
<rect x="845" y="236" width="1" height="4" fill="#ff4500"/>
<rect x="849" y="236" width="1" height="59" fill="#2bca2b"/>
<rect x="848" y="236" width="3" height="53" fill="#2bca2b"/>
<rect x="849" y="237" width="1" height="51" fill="#34cf34"/>
<rect x="853" y="272" width="1" height="34" fill="#2bca2b"/>
<rect x="852" y="288" width="3" height="5" fill="#2bca2b"/>
<rect x="853" y="289" width="1" height="3" fill="#34cf34"/>
<rect x="857" y="236" width="1" height="62" fill="#ff0000"/>
<rect x="856" y="241" width="3" height="52" fill="#ff0000"/>
<rect x="857" y="242" width="1" height="50" fill="#ff4500"/>
<rect x="861" y="186" width="1" height="58" fill="#ff0000"/>
<rect x="860" y="192" width="3" height="48" fill="#ff0000"/>
<rect x="861" y="193" width="1" height="46" fill="#ff4500"/>
<rect x="865" y="173" width="1" height="31" fill="#ff0000"/>
<rect x="864" y="178" width="3" height="14" fill="#ff0000"/>
<rect x="865" y="179" width="1" height="12" fill="#ff4500"/>
<rect x="869" y="176" width="1" height="4" fill="#ff0000"/>
<rect x="868" y="177" width="3" height="3" fill="#ff0000"/>
<rect x="869" y="178" width="1" height="1" fill="#ff4500"/>
<rect x="873" y="169" width="1" height="27" fill="#2bca2b"/>
<rect x="872" y="177" width="3" height="9" fill="#2bca2b"/>
<rect x="873" y="178" width="1" height="7" fill="#34cf34"/>
<rect x="877" y="142" width="1" height="54" fill="#ff0000"/>
<rect x="876" y="150" width="3" height="36" fill="#ff0000"/>
<rect x="877" y="151" width="1" height="34" fill="#ff4500"/>
<rect x="881" y="126" width="1" height="31" fill="#ff0000"/>
<rect x="880" y="131" width="3" height="20" fill="#ff0000"/>
<rect x="881" y="132" width="1" height="18" fill="#ff4500"/>
<rect x="885" y="116" width="1" height="33" fill="#ff0000"/>
<rect x="884" y="125" width="3" height="6" fill="#ff0000"/>
<rect x="885" y="126" width="1" height="4" fill="#ff4500"/>
<rect x="889" y="111" width="1" height="23" fill="#ff0000"/>
<rect x="888" y="119" width="3" height="7" fill="#ff0000"/>
<rect x="889" y="120" width="1" height="5" fill="#ff4500"/>
<rect x="893" y="119" width="1" height="5" fill="#ff0000"/>
<rect x="892" y="121" width="3" height="1" fill="#ff0000"/>
<rect x="897" y="109" width="1" height="39" fill="#2bca2b"/>
<rect x="896" y="121" width="3" height="11" fill="#2bca2b"/>
<rect x="897" y="122" width="1" height="9" fill="#34cf34"/>
<rect x="901" y="117" width="1" height="37" fill="#ff0000"/>
<rect x="900" y="122" width="3" height="10" fill="#ff0000"/>
<rect x="901" y="123" width="1" height="8" fill="#ff4500"/>
<rect x="905" y="111" width="1" height="23" fill="#2bca2b"/>
<rect x="904" y="123" width="3" height="7" fill="#2bca2b"/>
<rect x="905" y="124" width="1" height="5" fill="#34cf34"/>
<rect x="909" y="117" width="1" height="29" fill="#2bca2b"/>
<rect x="908" y="129" width="3" height="6" fill="#2bca2b"/>
<rect x="909" y="130" width="1" height="4" fill="#34cf34"/>
<rect x="913" y="117" width="1" height="27" fill="#ff0000"/>
<rect x="912" y="132" width="3" height="3" fill="#ff0000"/>
<rect x="913" y="133" width="1" height="1" fill="#ff4500"/>
<rect x="917" y="133" width="1" height="6" fill="#2bca2b"/>
<rect x="916" y="136" width="3" height="2" fill="#2bca2b"/>
<rect x="921" y="100" width="1" height="40" fill="#ff0000"/>
<rect x="920" y="107" width="3" height="31" fill="#ff0000"/>
<rect x="921" y="108" width="1" height="29" fill="#ff4500"/>
<rect x="925" y="46" width="1" height="66" fill="#ff0000"/>
<rect x="924" y="86" width="3" height="22" fill="#ff0000"/>
<rect x="925" y="87" width="1" height="20" fill="#ff4500"/>
</g>
</g>
<clipPath id="cs"><rect x="5" y="421" width="1162" height="147"/></clipPath>
<g clip-path="url(#cs)">
<g shape-rendering="crispEdges">
<rect x="4" y="454" width="3" height="20" fill="#c0c0c0"/>
<rect x="8" y="454" width="3" height="20" fill="#c0c0c0"/>
<rect x="12" y="454" width="3" height="20" fill="#c0c0c0"/>
<rect x="16" y="454" width="3" height="20" fill="#c0c0c0"/>
<rect x="20" y="454" width="3" height="20" fill="#c0c0c0"/>
<rect x="24" y="454" width="3" height="21" fill="#c0c0c0"/>
<rect x="28" y="454" width="3" height="22" fill="#c0c0c0"/>
<rect x="32" y="454" width="3" height="25" fill="#c0c0c0"/>
<rect x="36" y="454" width="3" height="26" fill="#c0c0c0"/>
<rect x="40" y="454" width="3" height="26" fill="#c0c0c0"/>
<rect x="44" y="454" width="3" height="26" fill="#c0c0c0"/>
<rect x="48" y="454" width="3" height="25" fill="#c0c0c0"/>
<rect x="52" y="454" width="3" height="23" fill="#c0c0c0"/>
<rect x="56" y="454" width="3" height="23" fill="#c0c0c0"/>
<rect x="60" y="454" width="3" height="22" fill="#c0c0c0"/>
<rect x="64" y="454" width="3" height="21" fill="#c0c0c0"/>
<rect x="68" y="454" width="3" height="19" fill="#c0c0c0"/>
<rect x="72" y="454" width="3" height="19" fill="#c0c0c0"/>
<rect x="76" y="454" width="3" height="19" fill="#c0c0c0"/>
<rect x="80" y="454" width="3" height="18" fill="#c0c0c0"/>
<rect x="84" y="454" width="3" height="16" fill="#c0c0c0"/>
<rect x="88" y="454" width="3" height="14" fill="#c0c0c0"/>
<rect x="92" y="454" width="3" height="12" fill="#c0c0c0"/>
<rect x="96" y="454" width="3" height="12" fill="#c0c0c0"/>
<rect x="100" y="454" width="3" height="13" fill="#c0c0c0"/>
<rect x="104" y="454" width="3" height="14" fill="#c0c0c0"/>
<rect x="108" y="454" width="3" height="13" fill="#c0c0c0"/>
<rect x="112" y="454" width="3" height="12" fill="#c0c0c0"/>
<rect x="116" y="454" width="3" height="11" fill="#c0c0c0"/>
<rect x="120" y="454" width="3" height="10" fill="#c0c0c0"/>
<rect x="124" y="454" width="3" height="9" fill="#c0c0c0"/>
<rect x="128" y="454" width="3" height="10" fill="#c0c0c0"/>
<rect x="132" y="454" width="3" height="12" fill="#c0c0c0"/>
<rect x="136" y="454" width="3" height="15" fill="#c0c0c0"/>
<rect x="140" y="454" width="3" height="20" fill="#c0c0c0"/>
<rect x="144" y="454" width="3" height="24" fill="#c0c0c0"/>
<rect x="148" y="454" width="3" height="26" fill="#c0c0c0"/>
<rect x="152" y="454" width="3" height="26" fill="#c0c0c0"/>
<rect x="156" y="454" width="3" height="24" fill="#c0c0c0"/>
<rect x="160" y="454" width="3" height="22" fill="#c0c0c0"/>
<rect x="164" y="454" width="3" height="19" fill="#c0c0c0"/>
<rect x="168" y="454" width="3" height="17" fill="#c0c0c0"/>
<rect x="172" y="454" width="3" height="14" fill="#c0c0c0"/>
<rect x="176" y="454" width="3" height="12" fill="#c0c0c0"/>
<rect x="180" y="454" width="3" height="10" fill="#c0c0c0"/>
<rect x="184" y="454" width="3" height="6" fill="#c0c0c0"/>
<rect x="188" y="454" width="3" height="3" fill="#c0c0c0"/>
<rect x="192" y="451" width="3" height="3" fill="#c0c0c0"/>
<rect x="196" y="447" width="3" height="7" fill="#c0c0c0"/>
<rect x="200" y="445" width="3" height="9" fill="#c0c0c0"/>
<rect x="204" y="445" width="3" height="9" fill="#c0c0c0"/>
<rect x="208" y="446" width="3" height="8" fill="#c0c0c0"/>
<rect x="212" y="446" width="3" height="8" fill="#c0c0c0"/>
<rect x="216" y="447" width="3" height="7" fill="#c0c0c0"/>
<rect x="220" y="448" width="3" height="6" fill="#c0c0c0"/>
<rect x="224" y="449" width="3" height="5" fill="#c0c0c0"/>
<rect x="228" y="450" width="3" height="4" fill="#c0c0c0"/>
<rect x="232" y="451" width="3" height="3" fill="#c0c0c0"/>
<rect x="236" y="453" width="3" height="1" fill="#c0c0c0"/>
<rect x="240" y="454" width="3" height="2" fill="#c0c0c0"/>
<rect x="244" y="454" width="3" height="5" fill="#c0c0c0"/>
<rect x="248" y="454" width="3" height="6" fill="#c0c0c0"/>
<rect x="252" y="454" width="3" height="9" fill="#c0c0c0"/>
<rect x="256" y="454" width="3" height="10" fill="#c0c0c0"/>
<rect x="260" y="454" width="3" height="8" fill="#c0c0c0"/>
<rect x="264" y="454" width="3" height="9" fill="#c0c0c0"/>
<rect x="268" y="454" width="3" height="10" fill="#c0c0c0"/>
<rect x="272" y="454" width="3" height="9" fill="#c0c0c0"/>
<rect x="276" y="454" width="3" height="10" fill="#c0c0c0"/>
<rect x="280" y="454" width="3" height="12" fill="#c0c0c0"/>
<rect x="284" y="454" width="3" height="13" fill="#c0c0c0"/>
<rect x="288" y="454" width="3" height="11" fill="#c0c0c0"/>
<rect x="292" y="454" width="3" height="10" fill="#c0c0c0"/>
<rect x="296" y="454" width="3" height="8" fill="#c0c0c0"/>
<rect x="300" y="454" width="3" height="6" fill="#c0c0c0"/>
<rect x="304" y="454" width="3" height="5" fill="#c0c0c0"/>
<rect x="308" y="454" width="3" height="4" fill="#c0c0c0"/>
<rect x="312" y="454" width="3" height="3" fill="#c0c0c0"/>
<rect x="316" y="454" width="3" height="3" fill="#c0c0c0"/>
<rect x="320" y="454" width="3" height="1" fill="#c0c0c0"/>
<rect x="324" y="453" width="3" height="1" fill="#c0c0c0"/>
<rect x="328" y="450" width="3" height="4" fill="#c0c0c0"/>
<rect x="332" y="447" width="3" height="7" fill="#c0c0c0"/>
<rect x="336" y="444" width="3" height="10" fill="#c0c0c0"/>
<rect x="340" y="443" width="3" height="11" fill="#c0c0c0"/>
<rect x="344" y="441" width="3" height="13" fill="#c0c0c0"/>
<rect x="348" y="439" width="3" height="15" fill="#c0c0c0"/>
<rect x="352" y="436" width="3" height="18" fill="#c0c0c0"/>
<rect x="356" y="435" width="3" height="19" fill="#c0c0c0"/>
<rect x="360" y="435" width="3" height="19" fill="#c0c0c0"/>
<rect x="364" y="435" width="3" height="19" fill="#c0c0c0"/>
<rect x="368" y="434" width="3" height="20" fill="#c0c0c0"/>
<rect x="372" y="433" width="3" height="21" fill="#c0c0c0"/>
<rect x="376" y="433" width="3" height="21" fill="#c0c0c0"/>
<rect x="380" y="432" width="3" height="22" fill="#c0c0c0"/>
<rect x="384" y="432" width="3" height="22" fill="#c0c0c0"/>
<rect x="388" y="432" width="3" height="22" fill="#c0c0c0"/>
<rect x="392" y="434" width="3" height="20" fill="#c0c0c0"/>
<rect x="396" y="436" width="3" height="18" fill="#c0c0c0"/>
<rect x="400" y="438" width="3" height="16" fill="#c0c0c0"/>
<rect x="404" y="441" width="3" height="13" fill="#c0c0c0"/>
<rect x="408" y="444" width="3" height="10" fill="#c0c0c0"/>
<rect x="412" y="447" width="3" height="7" fill="#c0c0c0"/>
<rect x="416" y="449" width="3" height="5" fill="#c0c0c0"/>
<rect x="420" y="451" width="3" height="3" fill="#c0c0c0"/>
<rect x="424" y="454" width="3" height="2" fill="#c0c0c0"/>
<rect x="428" y="454" width="3" height="5" fill="#c0c0c0"/>
<rect x="432" y="454" width="3" height="7" fill="#c0c0c0"/>
<rect x="436" y="454" width="3" height="9" fill="#c0c0c0"/>
<rect x="440" y="454" width="3" height="9" fill="#c0c0c0"/>
<rect x="444" y="454" width="3" height="11" fill="#c0c0c0"/>
<rect x="448" y="454" width="3" height="13" fill="#c0c0c0"/>
<rect x="452" y="454" width="3" height="14" fill="#c0c0c0"/>
<rect x="456" y="454" width="3" height="17" fill="#c0c0c0"/>
<rect x="460" y="454" width="3" height="19" fill="#c0c0c0"/>
<rect x="464" y="454" width="3" height="19" fill="#c0c0c0"/>
<rect x="468" y="454" width="3" height="20" fill="#c0c0c0"/>
<rect x="472" y="454" width="3" height="22" fill="#c0c0c0"/>
<rect x="476" y="454" width="3" height="24" fill="#c0c0c0"/>
<rect x="480" y="454" width="3" height="26" fill="#c0c0c0"/>
<rect x="484" y="454" width="3" height="28" fill="#c0c0c0"/>
<rect x="488" y="454" width="3" height="28" fill="#c0c0c0"/>
<rect x="492" y="454" width="3" height="29" fill="#c0c0c0"/>
<rect x="496" y="454" width="3" height="29" fill="#c0c0c0"/>
<rect x="500" y="454" width="3" height="30" fill="#c0c0c0"/>
<rect x="504" y="454" width="3" height="34" fill="#c0c0c0"/>
<rect x="508" y="454" width="3" height="35" fill="#c0c0c0"/>
<rect x="512" y="454" width="3" height="35" fill="#c0c0c0"/>
<rect x="516" y="454" width="3" height="31" fill="#c0c0c0"/>
<rect x="520" y="454" width="3" height="28" fill="#c0c0c0"/>
<rect x="524" y="454" width="3" height="24" fill="#c0c0c0"/>
<rect x="528" y="454" width="3" height="22" fill="#c0c0c0"/>
<rect x="532" y="454" width="3" height="19" fill="#c0c0c0"/>
<rect x="536" y="454" width="3" height="18" fill="#c0c0c0"/>
<rect x="540" y="454" width="3" height="18" fill="#c0c0c0"/>
<rect x="544" y="454" width="3" height="16" fill="#c0c0c0"/>
<rect x="548" y="454" width="3" height="13" fill="#c0c0c0"/>
<rect x="552" y="454" width="3" height="13" fill="#c0c0c0"/>
<rect x="556" y="454" width="3" height="13" fill="#c0c0c0"/>
<rect x="560" y="454" width="3" height="13" fill="#c0c0c0"/>
<rect x="564" y="454" width="3" height="11" fill="#c0c0c0"/>
<rect x="568" y="454" width="3" height="7" fill="#c0c0c0"/>
<rect x="572" y="454" width="3" height="5" fill="#c0c0c0"/>
<rect x="576" y="454" width="3" height="2" fill="#c0c0c0"/>
<rect x="580" y="453" width="3" height="1" fill="#c0c0c0"/>
<rect x="584" y="452" width="3" height="2" fill="#c0c0c0"/>
<rect x="588" y="450" width="3" height="4" fill="#c0c0c0"/>
<rect x="592" y="449" width="3" height="5" fill="#c0c0c0"/>
<rect x="596" y="448" width="3" height="6" fill="#c0c0c0"/>
<rect x="600" y="446" width="3" height="8" fill="#c0c0c0"/>
<rect x="604" y="445" width="3" height="9" fill="#c0c0c0"/>
<rect x="608" y="447" width="3" height="7" fill="#c0c0c0"/>
<rect x="612" y="447" width="3" height="7" fill="#c0c0c0"/>
<rect x="616" y="450" width="3" height="4" fill="#c0c0c0"/>
<rect x="620" y="450" width="3" height="4" fill="#c0c0c0"/>
<rect x="624" y="451" width="3" height="3" fill="#c0c0c0"/>
<rect x="628" y="453" width="3" height="1" fill="#c0c0c0"/>
<rect x="632" y="454" width="3" height="1" fill="#c0c0c0"/>
<rect x="636" y="453" width="3" height="1" fill="#c0c0c0"/>
<rect x="640" y="450" width="3" height="4" fill="#c0c0c0"/>
<rect x="644" y="449" width="3" height="5" fill="#c0c0c0"/>
<rect x="648" y="450" width="3" height="4" fill="#c0c0c0"/>
<rect x="652" y="450" width="3" height="4" fill="#c0c0c0"/>
<rect x="656" y="451" width="3" height="3" fill="#c0c0c0"/>
<rect x="660" y="452" width="3" height="2" fill="#c0c0c0"/>
<rect x="664" y="452" width="3" height="2" fill="#c0c0c0"/>
<rect x="668" y="452" width="3" height="2" fill="#c0c0c0"/>
<rect x="672" y="454" width="3" height="1" fill="#c0c0c0"/>
<rect x="676" y="454" width="3" height="2" fill="#c0c0c0"/>
<rect x="680" y="454" width="3" height="3" fill="#c0c0c0"/>
<rect x="684" y="454" width="3" height="4" fill="#c0c0c0"/>
<rect x="688" y="454" width="3" height="6" fill="#c0c0c0"/>
<rect x="692" y="454" width="3" height="11" fill="#c0c0c0"/>
<rect x="696" y="454" width="3" height="16" fill="#c0c0c0"/>
<rect x="700" y="454" width="3" height="19" fill="#c0c0c0"/>
<rect x="704" y="454" width="3" height="19" fill="#c0c0c0"/>
<rect x="708" y="454" width="3" height="17" fill="#c0c0c0"/>
<rect x="712" y="454" width="3" height="14" fill="#c0c0c0"/>
<rect x="716" y="454" width="3" height="13" fill="#c0c0c0"/>
<rect x="720" y="454" width="3" height="13" fill="#c0c0c0"/>
<rect x="724" y="454" width="3" height="12" fill="#c0c0c0"/>
<rect x="728" y="454" width="3" height="10" fill="#c0c0c0"/>
<rect x="732" y="454" width="3" height="10" fill="#c0c0c0"/>
<rect x="736" y="454" width="3" height="7" fill="#c0c0c0"/>
<rect x="740" y="454" width="3" height="5" fill="#c0c0c0"/>
<rect x="744" y="454" width="3" height="4" fill="#c0c0c0"/>
<rect x="748" y="454" width="3" height="4" fill="#c0c0c0"/>
<rect x="752" y="454" width="3" height="3" fill="#c0c0c0"/>
<rect x="756" y="454" width="3" height="3" fill="#c0c0c0"/>
<rect x="760" y="454" width="3" height="1" fill="#c0c0c0"/>
<rect x="764" y="454" width="3" height="1" fill="#c0c0c0"/>
<rect x="768" y="452" width="3" height="2" fill="#c0c0c0"/>
<rect x="772" y="451" width="3" height="3" fill="#c0c0c0"/>
<rect x="776" y="451" width="3" height="3" fill="#c0c0c0"/>
<rect x="780" y="449" width="3" height="5" fill="#c0c0c0"/>
<rect x="784" y="448" width="3" height="6" fill="#c0c0c0"/>
<rect x="788" y="449" width="3" height="5" fill="#c0c0c0"/>
<rect x="792" y="447" width="3" height="7" fill="#c0c0c0"/>
<rect x="796" y="448" width="3" height="6" fill="#c0c0c0"/>
<rect x="800" y="446" width="3" height="8" fill="#c0c0c0"/>
<rect x="804" y="444" width="3" height="10" fill="#c0c0c0"/>
<rect x="808" y="442" width="3" height="12" fill="#c0c0c0"/>
<rect x="812" y="439" width="3" height="15" fill="#c0c0c0"/>
<rect x="816" y="436" width="3" height="18" fill="#c0c0c0"/>
<rect x="820" y="433" width="3" height="21" fill="#c0c0c0"/>
<rect x="824" y="433" width="3" height="21" fill="#c0c0c0"/>
<rect x="828" y="435" width="3" height="19" fill="#c0c0c0"/>
<rect x="832" y="436" width="3" height="18" fill="#c0c0c0"/>
<rect x="836" y="435" width="3" height="19" fill="#c0c0c0"/>
<rect x="840" y="437" width="3" height="17" fill="#c0c0c0"/>
<rect x="844" y="438" width="3" height="16" fill="#c0c0c0"/>
<rect x="848" y="442" width="3" height="12" fill="#c0c0c0"/>
<rect x="852" y="446" width="3" height="8" fill="#c0c0c0"/>
<rect x="856" y="446" width="3" height="8" fill="#c0c0c0"/>
<rect x="860" y="443" width="3" height="11" fill="#c0c0c0"/>
<rect x="864" y="441" width="3" height="13" fill="#c0c0c0"/>
<rect x="868" y="438" width="3" height="16" fill="#c0c0c0"/>
<rect x="872" y="437" width="3" height="17" fill="#c0c0c0"/>
<rect x="876" y="434" width="3" height="20" fill="#c0c0c0"/>
<rect x="880" y="431" width="3" height="23" fill="#c0c0c0"/>
<rect x="884" y="428" width="3" height="26" fill="#c0c0c0"/>
<rect x="888" y="426" width="3" height="28" fill="#c0c0c0"/>
<rect x="892" y="425" width="3" height="29" fill="#c0c0c0"/>
<rect x="896" y="425" width="3" height="29" fill="#c0c0c0"/>
<rect x="900" y="425" width="3" height="29" fill="#c0c0c0"/>
<rect x="904" y="425" width="3" height="29" fill="#c0c0c0"/>
<rect x="908" y="426" width="3" height="28" fill="#c0c0c0"/>
<rect x="912" y="427" width="3" height="27" fill="#c0c0c0"/>
<rect x="916" y="429" width="3" height="25" fill="#c0c0c0"/>
<rect x="920" y="429" width="3" height="25" fill="#c0c0c0"/>
<rect x="924" y="427" width="3" height="27" fill="#c0c0c0"/>
</g>
<path d="M910 426.5h15M906 427.5h4M903 428.5h3M901 429.5h2M898 430.5h3M896 431.5h2M894 432.5h2M387 433.5h15M893 433.5h1M383 434.5h4M402 434.5h6M892 434.5h1M379 435.5h4M408 435.5h3M890 435.5h2M374 436.5h5M411 436.5h2M835 436.5h18M889 436.5h1M369 437.5h5M413 437.5h2M833 437.5h2M853 437.5h2M887 437.5h2M365 438.5h4M415 438.5h2M831 438.5h2M855 438.5h2M885 438.5h2M363 439.5h2M417 439.5h2M828 439.5h3M857 439.5h2M883 439.5h2M360 440.5h3M419 440.5h1M826 440.5h2M859 440.5h14M879 440.5h4M358 441.5h2M420 441.5h2M824 441.5h2M873 441.5h6M356 442.5h2M422 442.5h1M821 442.5h3M354 443.5h2M423 443.5h2M819 443.5h2M352 444.5h2M425 444.5h2M816 444.5h3M350 445.5h2M427 445.5h2M814 445.5h2M348 446.5h2M429 446.5h2M811 446.5h3M223 447.5h14M346 447.5h2M431 447.5h1M807 447.5h4M219 448.5h4M237 448.5h4M344 448.5h2M432 448.5h2M615 448.5h17M804 448.5h3M216 449.5h3M241 449.5h3M343 449.5h1M434 449.5h2M611 449.5h4M632 449.5h4M800 449.5h4M214 450.5h2M244 450.5h2M341 450.5h2M436 450.5h1M606 450.5h5M636 450.5h6M789 450.5h11M212 451.5h2M246 451.5h3M339 451.5h2M437 451.5h2M602 451.5h4M642 451.5h34M784 451.5h5M210 452.5h2M249 452.5h2M337 452.5h2M439 452.5h1M601 452.5h1M676 452.5h3M782 452.5h2M208 453.5h2M251 453.5h3M334 453.5h3M440 453.5h2M600 453.5h1M679 453.5h10M780 453.5h2M206 454.5h2M254 454.5h2M332 454.5h2M442 454.5h1M598 454.5h2M689 454.5h2M775 454.5h5M204 455.5h2M256 455.5h3M329 455.5h3M443 455.5h1M597 455.5h1M691 455.5h2M769 455.5h6M202 456.5h2M259 456.5h2M327 456.5h2M444 456.5h2M594 456.5h3M693 456.5h2M766 456.5h3M201 457.5h1M261 457.5h2M324 457.5h3M446 457.5h1M590 457.5h4M695 457.5h2M764 457.5h2M199 458.5h2M263 458.5h3M321 458.5h3M447 458.5h2M586 458.5h4M697 458.5h2M761 458.5h3M198 459.5h1M266 459.5h3M317 459.5h4M449 459.5h2M584 459.5h2M699 459.5h2M758 459.5h3M196 460.5h2M269 460.5h2M313 460.5h4M451 460.5h2M582 460.5h2M701 460.5h3M754 460.5h4M195 461.5h1M271 461.5h3M308 461.5h5M453 461.5h2M580 461.5h2M704 461.5h2M750 461.5h4M193 462.5h2M274 462.5h5M303 462.5h5M455 462.5h2M577 462.5h3M706 462.5h2M746 462.5h4M192 463.5h1M279 463.5h6M298 463.5h5M457 463.5h2M575 463.5h2M708 463.5h2M742 463.5h4M131 464.5h4M191 464.5h1M285 464.5h13M459 464.5h2M573 464.5h2M710 464.5h2M740 464.5h2M124 465.5h7M135 465.5h2M190 465.5h1M461 465.5h3M571 465.5h2M712 465.5h4M738 465.5h2M119 466.5h5M137 466.5h7M189 466.5h1M464 466.5h2M568 466.5h3M716 466.5h4M736 466.5h2M115 467.5h4M144 467.5h3M187 467.5h2M466 467.5h3M565 467.5h3M720 467.5h4M734 467.5h2M105 468.5h10M147 468.5h3M186 468.5h1M469 468.5h3M561 468.5h4M724 468.5h10M97 469.5h8M150 469.5h2M185 469.5h1M472 469.5h2M558 469.5h3M92 470.5h5M152 470.5h3M184 470.5h1M474 470.5h3M556 470.5h2M90 471.5h2M155 471.5h3M182 471.5h2M477 471.5h2M553 471.5h3M88 472.5h2M158 472.5h3M180 472.5h2M479 472.5h3M551 472.5h2M16 473.5h9M83 473.5h5M161 473.5h3M178 473.5h2M482 473.5h2M549 473.5h2M5 474.5h11M25 474.5h12M78 474.5h5M164 474.5h3M176 474.5h2M484 474.5h3M547 474.5h2M37 475.5h9M75 475.5h3M167 475.5h9M487 475.5h2M545 475.5h2M46 476.5h4M72 476.5h3M489 476.5h4M544 476.5h1M50 477.5h22M493 477.5h5M542 477.5h2M498 478.5h4M541 478.5h1M502 479.5h2M539 479.5h2M504 480.5h2M537 480.5h2M506 481.5h3M534 481.5h3M509 482.5h2M530 482.5h4M511 483.5h2M526 483.5h4M513 484.5h13" fill="none" stroke="#ff0000" stroke-width="1" shape-rendering="crispEdges"/>
<g shape-rendering="crispEdges">
<line x1="6" y1="517.5" x2="1167" y2="517.5" stroke="#c0c0c0" stroke-width="1" stroke-dasharray="3,3"/>
<line x1="6" y1="546.5" x2="1167" y2="546.5" stroke="#c0c0c0" stroke-width="1" stroke-dasharray="3,3"/>
</g>
<path d="M353 515.5h1M351 516.5h2M354 516.5h1M349 517.5h2M354 517.5h1M817 517.5h5M348 518.5h1M355 518.5h1M372 518.5h3M381 518.5h3M816 518.5h1M822 518.5h1M888 518.5h4M923 518.5h1M347 519.5h1M356 519.5h1M370 519.5h2M375 519.5h2M379 519.5h2M384 519.5h6M814 519.5h2M822 519.5h1M880 519.5h8M892 519.5h3M921 519.5h2M335 520.5h8M347 520.5h1M357 520.5h1M367 520.5h3M377 520.5h2M390 520.5h4M813 520.5h1M823 520.5h1M878 520.5h2M895 520.5h2M900 520.5h7M920 520.5h1M193 521.5h4M331 521.5h4M343 521.5h2M346 521.5h1M357 521.5h1M362 521.5h5M393 521.5h1M812 521.5h1M824 521.5h1M876 521.5h2M897 521.5h3M907 521.5h2M919 521.5h1M191 522.5h2M197 522.5h4M330 522.5h1M345 522.5h1M358 522.5h4M394 522.5h1M810 522.5h2M824 522.5h1M875 522.5h1M909 522.5h7M917 522.5h2M189 523.5h2M201 523.5h1M329 523.5h1M394 523.5h1M601 523.5h5M809 523.5h1M825 523.5h1M837 523.5h1M863 523.5h9M874 523.5h1M916 523.5h1M188 524.5h1M202 524.5h1M328 524.5h1M394 524.5h1M593 524.5h3M599 524.5h2M605 524.5h1M640 524.5h6M781 524.5h5M807 524.5h2M826 524.5h1M836 524.5h1M838 524.5h1M861 524.5h2M872 524.5h2M186 525.5h2M203 525.5h1M327 525.5h1M395 525.5h1M591 525.5h2M596 525.5h3M606 525.5h1M639 525.5h1M645 525.5h1M780 525.5h1M785 525.5h1M801 525.5h6M826 525.5h1M834 525.5h2M838 525.5h1M860 525.5h1M185 526.5h1M204 526.5h1M321 526.5h3M326 526.5h1M395 526.5h1M569 526.5h22M606 526.5h1M639 526.5h1M646 526.5h1M779 526.5h1M786 526.5h1M793 526.5h1M800 526.5h1M827 526.5h1M833 526.5h1M839 526.5h1M859 526.5h1M183 527.5h2M205 527.5h1M320 527.5h1M324 527.5h2M396 527.5h1M568 527.5h1M607 527.5h1M638 527.5h1M646 527.5h1M761 527.5h3M778 527.5h1M786 527.5h1M792 527.5h1M794 527.5h1M799 527.5h1M828 527.5h1M832 527.5h1M840 527.5h1M858 527.5h1M182 528.5h1M206 528.5h2M309 528.5h3M319 528.5h1M396 528.5h1M401 528.5h1M568 528.5h1M607 528.5h1M613 528.5h1M638 528.5h1M647 528.5h1M737 528.5h2M760 528.5h1M764 528.5h9M776 528.5h2M787 528.5h1M792 528.5h1M795 528.5h1M799 528.5h1M828 528.5h1M830 528.5h2M840 528.5h1M858 528.5h1M180 529.5h2M208 529.5h1M308 529.5h1M312 529.5h3M319 529.5h1M396 529.5h1M400 529.5h1M402 529.5h1M567 529.5h1M607 529.5h1M612 529.5h1M614 529.5h2M637 529.5h1M647 529.5h1M736 529.5h1M739 529.5h2M759 529.5h1M773 529.5h3M787 529.5h1M791 529.5h1M796 529.5h1M798 529.5h1M829 529.5h1M841 529.5h5M857 529.5h1M171 530.5h3M179 530.5h1M209 530.5h17M306 530.5h2M315 530.5h2M318 530.5h1M397 530.5h3M402 530.5h1M566 530.5h1M608 530.5h1M611 530.5h1M616 530.5h1M637 530.5h1M648 530.5h1M734 530.5h2M741 530.5h1M758 530.5h1M788 530.5h1M790 530.5h1M797 530.5h1M846 530.5h1M856 530.5h1M168 531.5h3M174 531.5h2M177 531.5h2M226 531.5h1M295 531.5h6M305 531.5h1M317 531.5h1M397 531.5h1M403 531.5h1M565 531.5h1M608 531.5h1M611 531.5h1M617 531.5h1M636 531.5h1M648 531.5h1M652 531.5h4M666 531.5h4M732 531.5h2M742 531.5h2M749 531.5h3M756 531.5h2M788 531.5h1M790 531.5h1M846 531.5h1M855 531.5h1M121 532.5h2M167 532.5h1M176 532.5h1M227 532.5h1M233 532.5h1M291 532.5h4M301 532.5h4M404 532.5h1M545 532.5h5M565 532.5h1M609 532.5h2M618 532.5h1M635 532.5h1M649 532.5h3M656 532.5h2M664 532.5h2M670 532.5h1M717 532.5h1M729 532.5h3M744 532.5h1M747 532.5h2M752 532.5h4M789 532.5h1M847 532.5h1M855 532.5h1M92 533.5h1M120 533.5h1M123 533.5h2M167 533.5h1M227 533.5h1M232 533.5h1M234 533.5h1M261 533.5h1M289 533.5h2M404 533.5h1M416 533.5h1M528 533.5h3M544 533.5h1M550 533.5h2M564 533.5h1M609 533.5h1M618 533.5h1M625 533.5h4M633 533.5h2M658 533.5h2M662 533.5h2M671 533.5h1M709 533.5h3M715 533.5h2M718 533.5h1M728 533.5h1M745 533.5h2M848 533.5h1M854 533.5h1M85 534.5h2M90 534.5h2M93 534.5h1M113 534.5h1M119 534.5h1M125 534.5h2M160 534.5h2M166 534.5h1M228 534.5h1M230 534.5h2M235 534.5h1M260 534.5h1M262 534.5h1M272 534.5h2M287 534.5h2M405 534.5h3M414 534.5h2M417 534.5h2M521 534.5h2M526 534.5h2M531 534.5h3M544 534.5h1M552 534.5h1M563 534.5h1M619 534.5h1M624 534.5h1M629 534.5h4M660 534.5h2M672 534.5h1M675 534.5h2M708 534.5h1M712 534.5h3M719 534.5h1M727 534.5h1M848 534.5h1M854 534.5h1M84 535.5h1M87 535.5h3M94 535.5h1M112 535.5h1M114 535.5h2M119 535.5h1M127 535.5h1M158 535.5h2M162 535.5h1M165 535.5h1M229 535.5h1M235 535.5h1M260 535.5h1M263 535.5h1M270 535.5h2M274 535.5h2M286 535.5h1M408 535.5h6M419 535.5h1M520 535.5h1M523 535.5h3M534 535.5h3M543 535.5h1M553 535.5h2M562 535.5h1M620 535.5h1M622 535.5h2M673 535.5h2M677 535.5h2M707 535.5h1M719 535.5h1M726 535.5h1M849 535.5h3M853 535.5h1M83 536.5h1M95 536.5h1M111 536.5h1M116 536.5h1M118 536.5h1M128 536.5h1M157 536.5h1M163 536.5h1M165 536.5h1M236 536.5h1M259 536.5h1M264 536.5h1M267 536.5h3M276 536.5h1M285 536.5h1M420 536.5h2M518 536.5h2M537 536.5h2M542 536.5h1M555 536.5h4M562 536.5h1M621 536.5h1M679 536.5h2M684 536.5h2M706 536.5h1M720 536.5h1M724 536.5h2M852 536.5h2M17 537.5h1M68 537.5h1M81 537.5h2M96 537.5h1M110 537.5h1M117 537.5h1M129 537.5h1M156 537.5h1M164 537.5h1M237 537.5h2M259 537.5h1M265 537.5h2M277 537.5h1M285 537.5h1M422 537.5h1M437 537.5h5M517 537.5h1M539 537.5h2M542 537.5h1M559 537.5h3M681 537.5h3M686 537.5h1M705 537.5h1M721 537.5h3M4 538.5h3M16 538.5h1M18 538.5h1M66 538.5h2M69 538.5h1M80 538.5h1M97 538.5h2M108 538.5h2M130 538.5h1M155 538.5h1M239 538.5h3M258 538.5h1M278 538.5h1M284 538.5h1M423 538.5h1M433 538.5h4M442 538.5h2M517 538.5h1M541 538.5h1M687 538.5h1M705 538.5h1M7 539.5h3M15 539.5h1M19 539.5h1M56 539.5h3M64 539.5h2M70 539.5h1M79 539.5h1M99 539.5h4M106 539.5h2M130 539.5h1M154 539.5h1M242 539.5h8M258 539.5h1M278 539.5h1M283 539.5h1M424 539.5h1M432 539.5h1M444 539.5h1M516 539.5h1M687 539.5h1M704 539.5h1M10 540.5h2M15 540.5h1M20 540.5h1M54 540.5h2M59 540.5h2M62 540.5h2M71 540.5h1M77 540.5h2M103 540.5h3M131 540.5h1M153 540.5h1M250 540.5h2M257 540.5h1M279 540.5h1M282 540.5h1M425 540.5h2M431 540.5h1M445 540.5h1M516 540.5h1M688 540.5h1M704 540.5h1M12 541.5h1M14 541.5h1M21 541.5h3M45 541.5h3M51 541.5h3M61 541.5h1M72 541.5h1M75 541.5h2M132 541.5h1M152 541.5h1M252 541.5h2M256 541.5h2M280 541.5h1M282 541.5h1M427 541.5h1M431 541.5h1M446 541.5h2M452 541.5h2M515 541.5h1M689 541.5h1M703 541.5h1M13 542.5h1M24 542.5h3M43 542.5h2M48 542.5h3M73 542.5h2M133 542.5h2M152 542.5h1M254 542.5h2M281 542.5h1M428 542.5h1M430 542.5h1M448 542.5h1M450 542.5h2M454 542.5h2M515 542.5h1M690 542.5h1M703 542.5h1M27 543.5h2M41 543.5h2M135 543.5h2M151 543.5h1M429 543.5h1M449 543.5h1M456 543.5h2M514 543.5h1M691 543.5h1M703 543.5h1M29 544.5h2M39 544.5h2M137 544.5h1M151 544.5h1M458 544.5h2M514 544.5h1M691 544.5h1M702 544.5h1M31 545.5h2M36 545.5h3M138 545.5h1M150 545.5h1M460 545.5h10M513 545.5h1M692 545.5h1M702 545.5h1M33 546.5h3M139 546.5h1M150 546.5h1M470 546.5h2M513 546.5h1M693 546.5h2M701 546.5h1M140 547.5h1M149 547.5h1M472 547.5h2M486 547.5h4M512 547.5h1M695 547.5h2M700 547.5h2M141 548.5h2M149 548.5h1M474 548.5h3M485 548.5h1M490 548.5h5M512 548.5h1M697 548.5h3M143 549.5h2M147 549.5h2M477 549.5h2M483 549.5h2M495 549.5h4M511 549.5h1M145 550.5h2M479 550.5h2M482 550.5h1M499 550.5h2M510 550.5h1M481 551.5h1M501 551.5h1M508 551.5h2M502 552.5h2M507 552.5h1M504 553.5h1M506 553.5h1M505 554.5h1" fill="none" stroke="#1e90ff" stroke-width="1" shape-rendering="crispEdges"/>
</g>
<g shape-rendering="crispEdges">
<rect x="1168" y="52" width="2" height="1" fill="#000"/>
<rect x="1168" y="118" width="2" height="1" fill="#000"/>
<rect x="1168" y="151" width="2" height="1" fill="#000"/>
<rect x="1168" y="184" width="2" height="1" fill="#000"/>
<rect x="1168" y="217" width="2" height="1" fill="#000"/>
<rect x="1168" y="250" width="2" height="1" fill="#000"/>
<rect x="1168" y="283" width="2" height="1" fill="#000"/>
<rect x="1168" y="316" width="2" height="1" fill="#000"/>
<rect x="1168" y="349" width="2" height="1" fill="#000"/>
<rect x="1168" y="382" width="2" height="1" fill="#000"/>
<rect x="1168" y="415" width="2" height="1" fill="#000"/>
<rect x="1168" y="422" width="1" height="1" fill="#000"/>
<rect x="1168" y="491" width="1" height="1" fill="#000"/>
<rect x="1168" y="496" width="1" height="1" fill="#000"/>
<rect x="1168" y="567" width="1" height="1" fill="#000"/>
<rect x="1168" y="86" width="2" height="1" fill="#000"/>
<rect x="1168" y="454" width="2" height="1" fill="#000"/>
<rect x="5" y="569" width="1" height="3" fill="#000"/>
<rect x="69" y="569" width="1" height="3" fill="#000"/>
<rect x="133" y="569" width="1" height="3" fill="#000"/>
<rect x="197" y="569" width="1" height="3" fill="#000"/>
<rect x="261" y="569" width="1" height="3" fill="#000"/>
<rect x="325" y="569" width="1" height="3" fill="#000"/>
<rect x="389" y="569" width="1" height="3" fill="#000"/>
<rect x="453" y="569" width="1" height="3" fill="#000"/>
<rect x="517" y="569" width="1" height="3" fill="#000"/>
<rect x="581" y="569" width="1" height="3" fill="#000"/>
<rect x="645" y="569" width="1" height="3" fill="#000"/>
<rect x="709" y="569" width="1" height="3" fill="#000"/>
<rect x="773" y="569" width="1" height="3" fill="#000"/>
<rect x="837" y="569" width="1" height="3" fill="#000"/>
<rect x="901" y="569" width="1" height="3" fill="#000"/>
</g>
<text x="1173" y="56" font-size="10.1" fill="#000" text-anchor="start" font-weight="normal" textLength="32.5" lengthAdjust="spacingAndGlyphs" stroke="#000" stroke-width="0.22">0.76480</text>
<text x="1173" y="122" font-size="10.1" fill="#000" text-anchor="start" font-weight="normal" textLength="32.5" lengthAdjust="spacingAndGlyphs" stroke="#000" stroke-width="0.22">0.75220</text>
<text x="1173" y="155" font-size="10.1" fill="#000" text-anchor="start" font-weight="normal" textLength="32.5" lengthAdjust="spacingAndGlyphs" stroke="#000" stroke-width="0.22">0.74590</text>
<text x="1173" y="188" font-size="10.1" fill="#000" text-anchor="start" font-weight="normal" textLength="32.5" lengthAdjust="spacingAndGlyphs" stroke="#000" stroke-width="0.22">0.73960</text>
<text x="1173" y="221" font-size="10.1" fill="#000" text-anchor="start" font-weight="normal" textLength="32.5" lengthAdjust="spacingAndGlyphs" stroke="#000" stroke-width="0.22">0.73330</text>
<text x="1173" y="254" font-size="10.1" fill="#000" text-anchor="start" font-weight="normal" textLength="32.5" lengthAdjust="spacingAndGlyphs" stroke="#000" stroke-width="0.22">0.72685</text>
<text x="1173" y="287" font-size="10.1" fill="#000" text-anchor="start" font-weight="normal" textLength="32.5" lengthAdjust="spacingAndGlyphs" stroke="#000" stroke-width="0.22">0.72055</text>
<text x="1173" y="320" font-size="10.1" fill="#000" text-anchor="start" font-weight="normal" textLength="32.5" lengthAdjust="spacingAndGlyphs" stroke="#000" stroke-width="0.22">0.71425</text>
<text x="1173" y="353" font-size="10.1" fill="#000" text-anchor="start" font-weight="normal" textLength="32.5" lengthAdjust="spacingAndGlyphs" stroke="#000" stroke-width="0.22">0.70795</text>
<text x="1173" y="386" font-size="10.1" fill="#000" text-anchor="start" font-weight="normal" textLength="32.5" lengthAdjust="spacingAndGlyphs" stroke="#000" stroke-width="0.22">0.70165</text>
<text x="1173" y="419" font-size="10.1" fill="#000" text-anchor="start" font-weight="normal" textLength="32.5" lengthAdjust="spacingAndGlyphs" stroke="#000" stroke-width="0.22">0.69535</text>
<rect x="1169" y="81" width="39" height="11" fill="#000" shape-rendering="crispEdges"/>
<text x="1173" y="90" font-size="10.1" fill="#fff" text-anchor="start" font-weight="normal" textLength="32.5" lengthAdjust="spacingAndGlyphs" stroke="#fff" stroke-width="0.22">0.75838</text>
<rect x="1169" y="97" width="39" height="11" fill="#ff0000" shape-rendering="crispEdges"/>
<text x="1173" y="106" font-size="10.1" fill="#fff" text-anchor="start" font-weight="normal" textLength="32.5" lengthAdjust="spacingAndGlyphs" stroke="#fff" stroke-width="0.22">0.75512</text>
<rect x="1169" y="176" width="39" height="11" fill="#7cfc00" shape-rendering="crispEdges"/>
<text x="1173" y="185" font-size="10.1" fill="#fff" text-anchor="start" font-weight="normal" textLength="32.5" lengthAdjust="spacingAndGlyphs" stroke="#fff" stroke-width="0.22">0.74002</text>
<rect x="1169" y="254" width="39" height="11" fill="#0000ff" shape-rendering="crispEdges"/>
<text x="1173" y="263" font-size="10.1" fill="#fff" text-anchor="start" font-weight="normal" textLength="32.5" lengthAdjust="spacingAndGlyphs" stroke="#fff" stroke-width="0.22">0.72504</text>
<rect x="1169" y="332" width="39" height="11" fill="#0000ff" shape-rendering="crispEdges"/>
<text x="1173" y="341" font-size="10.1" fill="#fff" text-anchor="start" font-weight="normal" textLength="32.5" lengthAdjust="spacingAndGlyphs" stroke="#fff" stroke-width="0.22">0.71013</text>
<rect x="1169" y="407" width="39" height="11" fill="#0000ff" shape-rendering="crispEdges"/>
<text x="1173" y="416" font-size="10.1" fill="#fff" text-anchor="start" font-weight="normal" textLength="32.5" lengthAdjust="spacingAndGlyphs" stroke="#fff" stroke-width="0.22">0.69582</text>
<text x="1171.1" y="431" font-size="10.1" fill="#000" text-anchor="start" font-weight="normal" textLength="37.8" lengthAdjust="spacingAndGlyphs" stroke="#000" stroke-width="0.22">0.008061</text>
<text x="1170.8" y="458" font-size="10.1" fill="#000" text-anchor="start" font-weight="normal" textLength="18" lengthAdjust="spacingAndGlyphs" stroke="#000" stroke-width="0.22">0.00</text>
<text x="1170.9" y="489" font-size="10.1" fill="#000" text-anchor="start" font-weight="normal" textLength="41.2" lengthAdjust="spacingAndGlyphs" stroke="#000" stroke-width="0.22">-0.009286</text>
<text x="1171.2" y="505" font-size="10.1" fill="#000" text-anchor="start" font-weight="normal" textLength="15.2" lengthAdjust="spacingAndGlyphs" stroke="#000" stroke-width="0.22">100</text>
<text x="1170" y="521" font-size="10.1" fill="#000" text-anchor="start" font-weight="normal" textLength="10" lengthAdjust="spacingAndGlyphs" stroke="#000" stroke-width="0.22">70</text>
<text x="1170" y="550" font-size="10.1" fill="#000" text-anchor="start" font-weight="normal" textLength="10" lengthAdjust="spacingAndGlyphs" stroke="#000" stroke-width="0.22">30</text>
<text x="1170.8" y="565" font-size="10.1" fill="#000" text-anchor="start" font-weight="normal" textLength="5.2" lengthAdjust="spacingAndGlyphs" stroke="#000" stroke-width="0.22">0</text>
<path d="M8 37.3 L15 37.3 L11.5 33 Z" fill="#000"/>
<text x="20.5" y="37.5" font-size="10.1" fill="#000" text-anchor="start" font-weight="normal" textLength="67.5" lengthAdjust="spacingAndGlyphs" stroke="#000" stroke-width="0.22">AUDUSD-,Daily</text>
<text x="95.3" y="37.5" font-size="10.1" fill="#000" text-anchor="start" font-weight="normal" textLength="140.7" lengthAdjust="spacingAndGlyphs" stroke="#000" stroke-width="0.22">0.75412 0.76602 0.75346 0.75838</text>
<text x="8.8" y="432.7" font-size="10.1" fill="#000" text-anchor="start" font-weight="normal" textLength="148.3" lengthAdjust="spacingAndGlyphs" stroke="#000" stroke-width="0.22">MACD(12,26,9) 0.006667 0.006834</text>
<text x="8.8" y="507" font-size="10.1" fill="#000" text-anchor="start" font-weight="normal" textLength="67.7" lengthAdjust="spacingAndGlyphs" stroke="#000" stroke-width="0.22">RSI(14) 70.0311</text>
<text x="4.4" y="581" font-size="10.1" fill="#000" text-anchor="start" font-weight="normal" textLength="46.7" lengthAdjust="spacingAndGlyphs" stroke="#000" stroke-width="0.22">11 Jul 2021</text>
<text x="68.4" y="581" font-size="10.1" fill="#000" text-anchor="start" font-weight="normal" textLength="46.0" lengthAdjust="spacingAndGlyphs" stroke="#000" stroke-width="0.22">29 Jul 2021</text>
<text x="132.4" y="581" font-size="10.1" fill="#000" text-anchor="start" font-weight="normal" textLength="52.4" lengthAdjust="spacingAndGlyphs" stroke="#000" stroke-width="0.22">17 Aug 2021</text>
<text x="196.4" y="581" font-size="10.1" fill="#000" text-anchor="start" font-weight="normal" textLength="46.4" lengthAdjust="spacingAndGlyphs" stroke="#000" stroke-width="0.22">5 Sep 2021</text>
<text x="260.4" y="581" font-size="10.1" fill="#000" text-anchor="start" font-weight="normal" textLength="51.7" lengthAdjust="spacingAndGlyphs" stroke="#000" stroke-width="0.22">23 Sep 2021</text>
<text x="324.4" y="581" font-size="10.1" fill="#000" text-anchor="start" font-weight="normal" textLength="50.2" lengthAdjust="spacingAndGlyphs" stroke="#000" stroke-width="0.22">12 Oct 2021</text>
<text x="388.4" y="581" font-size="10.1" fill="#000" text-anchor="start" font-weight="normal" textLength="51.0" lengthAdjust="spacingAndGlyphs" stroke="#000" stroke-width="0.22">31 Oct 2021</text>
<text x="452.4" y="581" font-size="10.1" fill="#000" text-anchor="start" font-weight="normal" textLength="53.6" lengthAdjust="spacingAndGlyphs" stroke="#000" stroke-width="0.22">18 Nov 2021</text>
<text x="516.4" y="581" font-size="10.1" fill="#000" text-anchor="start" font-weight="normal" textLength="47.0" lengthAdjust="spacingAndGlyphs" stroke="#000" stroke-width="0.22">7 Dec 2021</text>
<text x="580.4" y="581" font-size="10.1" fill="#000" text-anchor="start" font-weight="normal" textLength="50.9" lengthAdjust="spacingAndGlyphs" stroke="#000" stroke-width="0.22">26 Dec 2021</text>
<text x="644.4" y="581" font-size="10.1" fill="#000" text-anchor="start" font-weight="normal" textLength="50.1" lengthAdjust="spacingAndGlyphs" stroke="#000" stroke-width="0.22">13 Jan 2022</text>
<text x="708.4" y="581" font-size="10.1" fill="#000" text-anchor="start" font-weight="normal" textLength="47.0" lengthAdjust="spacingAndGlyphs" stroke="#000" stroke-width="0.22">1 Feb 2022</text>
<text x="772.4" y="581" font-size="10.1" fill="#000" text-anchor="start" font-weight="normal" textLength="52.300000000000004" lengthAdjust="spacingAndGlyphs" stroke="#000" stroke-width="0.22">20 Feb 2022</text>
<text x="836.4" y="581" font-size="10.1" fill="#000" text-anchor="start" font-weight="normal" textLength="51.800000000000004" lengthAdjust="spacingAndGlyphs" stroke="#000" stroke-width="0.22">10 Mar 2022</text>
<text x="900.4" y="581" font-size="10.1" fill="#000" text-anchor="start" font-weight="normal" textLength="52.2" lengthAdjust="spacingAndGlyphs" stroke="#000" stroke-width="0.22">29 Mar 2022</text>
<text x="-10.6" y="14" font-size="10.2" fill="#2e2e2e" text-anchor="start" font-weight="normal" textLength="16.5" lengthAdjust="spacingAndGlyphs" stroke="#2e2e2e" stroke-width="0.08">M15</text>
<text x="17" y="14" font-size="10.2" fill="#2e2e2e" text-anchor="start" font-weight="normal" textLength="17.4" lengthAdjust="spacingAndGlyphs" stroke="#2e2e2e" stroke-width="0.08">M30</text>
<text x="47.3" y="14" font-size="10.2" fill="#2e2e2e" text-anchor="start" font-weight="normal" textLength="12" lengthAdjust="spacingAndGlyphs" stroke="#2e2e2e" stroke-width="0.08">H1</text>
<text x="74.6" y="14" font-size="10.2" fill="#2e2e2e" text-anchor="start" font-weight="normal" textLength="12.3" lengthAdjust="spacingAndGlyphs" stroke="#2e2e2e" stroke-width="0.08">H4</text>
<text x="103.8" y="14" font-size="10.2" fill="#2e2e2e" text-anchor="start" font-weight="normal" textLength="11.2" lengthAdjust="spacingAndGlyphs" stroke="#2e2e2e" stroke-width="0.08">D1</text>
<text x="130.8" y="14" font-size="10.2" fill="#2e2e2e" text-anchor="start" font-weight="normal" textLength="14.3" lengthAdjust="spacingAndGlyphs" stroke="#2e2e2e" stroke-width="0.08">W1</text>
<text x="157.7" y="14" font-size="10.2" fill="#2e2e2e" text-anchor="start" font-weight="normal" textLength="14.3" lengthAdjust="spacingAndGlyphs" stroke="#2e2e2e" stroke-width="0.08">MN</text>
<text x="17.2" y="605.6" font-size="12.5" fill="#787878" text-anchor="start" font-weight="normal" textLength="78" lengthAdjust="spacingAndGlyphs">USDX,Weekly</text>
<text x="117" y="605.6" font-size="12.5" fill="#787878" text-anchor="start" font-weight="normal" textLength="85" lengthAdjust="spacingAndGlyphs">EURUSD-,Daily</text>
<text x="224.2" y="605.6" font-size="12.5" fill="#000" text-anchor="start" font-weight="normal" textLength="86.6" lengthAdjust="spacingAndGlyphs">AUDUSD-,Daily</text>
<text x="334" y="605.6" font-size="12.5" fill="#787878" text-anchor="start" font-weight="normal" textLength="84" lengthAdjust="spacingAndGlyphs">USDCHF-,Daily</text>
<text x="441" y="605.6" font-size="12.5" fill="#787878" text-anchor="start" font-weight="normal" textLength="86" lengthAdjust="spacingAndGlyphs">USDCAD-,Daily</text>
<text x="550" y="605.6" font-size="12.5" fill="#787878" text-anchor="start" font-weight="normal" textLength="88" lengthAdjust="spacingAndGlyphs">USDCNH-,Daily</text>
<text x="660" y="605.6" font-size="12.5" fill="#787878" text-anchor="start" font-weight="normal" textLength="75" lengthAdjust="spacingAndGlyphs">XAUUSD-,H4</text>
<text x="757" y="605.6" font-size="12.5" fill="#787878" text-anchor="start" font-weight="normal" textLength="69" lengthAdjust="spacingAndGlyphs">UKOil-,Daily</text>
<text x="850" y="605.6" font-size="12.5" fill="#787878" text-anchor="start" font-weight="normal" textLength="64.5" lengthAdjust="spacingAndGlyphs">DJ30-,Daily</text>
<text x="937" y="605.6" font-size="12.5" fill="#787878" text-anchor="start" font-weight="normal" textLength="62" lengthAdjust="spacingAndGlyphs">UK100-,H1</text>
<text x="1022" y="605.6" font-size="12.5" fill="#787878" text-anchor="start" font-weight="normal" textLength="55" lengthAdjust="spacingAndGlyphs">USOil-,H1</text>
<text x="1100" y="605.6" font-size="12.5" fill="#787878" text-anchor="start" font-weight="normal" textLength="55" lengthAdjust="spacingAndGlyphs">HK50-,H1</text>
<g shape-rendering="crispEdges">
<rect x="107" y="595" width="1" height="13" fill="#8a8a8a"/>
<rect x="430" y="595" width="1" height="13" fill="#8a8a8a"/>
<rect x="538" y="595" width="1" height="13" fill="#8a8a8a"/>
<rect x="650" y="595" width="1" height="13" fill="#8a8a8a"/>
<rect x="746" y="595" width="1" height="13" fill="#8a8a8a"/>
<rect x="838" y="595" width="1" height="13" fill="#8a8a8a"/>
<rect x="926" y="595" width="1" height="13" fill="#8a8a8a"/>
<rect x="1010" y="595" width="1" height="13" fill="#8a8a8a"/>
<rect x="1090" y="595" width="1" height="13" fill="#8a8a8a"/>
<rect x="1167" y="595" width="1" height="13" fill="#8a8a8a"/>
</g>
<path d="M1186.5 598.5 L1186.5 603.5 L1183.7 601 Z" fill="#bdbdbd"/>
<path d="M1201.3 597.3 L1201.3 604.7 L1205.3 601 Z" fill="#000"/>
<linearGradient id="gp" gradientUnits="userSpaceOnUse" x1="0" y1="46" x2="0" y2="103"><stop offset="0" stop-color="#fa4e4e"/><stop offset="0.40" stop-color="#e23030"/><stop offset="0.44" stop-color="#d82626"/><stop offset="1" stop-color="#a90303"/></linearGradient>
<g shape-rendering="crispEdges">
<path d="M8 46 H60 V70 H117 V103 H8 Z" fill="#c01818"/>
<path d="M9 47 H59 V71 H116 V102 H9 Z" fill="url(#gp)"/>
<path d="M175 46 H227 V103 H119 V70 H175 Z" fill="#c01818"/>
<path d="M176 47 H226 V102 H120 V71 H176 Z" fill="url(#gp)"/>
<rect x="8" y="102" width="109" height="1" fill="#9a0000"/><rect x="119" y="102" width="108" height="1" fill="#9a0000"/>
<rect x="12" y="70" width="44" height="1" fill="#a01010"/><rect x="12" y="71" width="44" height="1" fill="#ee5555"/>
<rect x="179" y="70" width="44" height="1" fill="#a01010"/><rect x="179" y="71" width="44" height="1" fill="#ee5555"/>
<rect x="62" y="46" width="111" height="22" fill="#abadb3"/><rect x="63" y="47" width="109" height="20" fill="#fff"/>
<rect x="63" y="47" width="20" height="20" fill="#f3f3f3"/><rect x="64" y="48" width="18" height="18" fill="url(#gb)"/><rect x="83" y="47" width="1" height="20" fill="#abadb3"/>
<rect x="152" y="47" width="20" height="20" fill="#f3f3f3"/><rect x="153" y="48" width="18" height="18" fill="url(#gb)"/><rect x="151" y="47" width="1" height="20" fill="#abadb3"/>
</g>
<path d="M70 55 L75.5 55 L72.75 58.3 Z" fill="#5068c4"/>
<path d="M159 58.3 L164.5 58.3 L161.75 55 Z" fill="#5068c4"/>
<text x="123.9" y="60.8" font-size="11.8" fill="#101020" text-anchor="start" font-weight="normal" textLength="23.7" lengthAdjust="spacingAndGlyphs" stroke="#101020" stroke-width="0.22">0.50</text>
<text x="20.5" y="61.6" font-size="11.7" fill="#fff" text-anchor="start" font-weight="normal" textLength="25" lengthAdjust="spacingAndGlyphs" stroke="#fff" stroke-width="0.22">SELL</text>
<text x="188.6" y="61.6" font-size="11.7" fill="#fff" text-anchor="start" font-weight="normal" textLength="22.5" lengthAdjust="spacingAndGlyphs" stroke="#fff" stroke-width="0.22">BUY</text>
<text x="27.9" y="97.5" font-size="11" fill="#fff" text-anchor="start" font-weight="bold" textLength="23.4" lengthAdjust="spacingAndGlyphs" stroke="#fff" stroke-width="0.22">0.75</text>
<text x="137.9" y="97.5" font-size="11" fill="#fff" text-anchor="start" font-weight="bold" textLength="23.6" lengthAdjust="spacingAndGlyphs" stroke="#fff" stroke-width="0.22">0.75</text>
<text x="55.4" y="97.7" font-size="33.6" fill="#fff" text-anchor="start" font-weight="normal" textLength="35.2" lengthAdjust="spacingAndGlyphs" stroke="#fff" stroke-width="0.22">83</text>
<text x="166.5" y="97.7" font-size="33.6" fill="#fff" text-anchor="start" font-weight="normal" textLength="35.2" lengthAdjust="spacingAndGlyphs" stroke="#fff" stroke-width="0.22">85</text>
<text x="95.1" y="81.6" font-size="11" fill="#fff" text-anchor="start" font-weight="normal" textLength="6.9" lengthAdjust="spacingAndGlyphs" stroke="#fff" stroke-width="0.45">8</text>
<text x="206.8" y="81.6" font-size="11" fill="#fff" text-anchor="start" font-weight="normal" textLength="5.9" lengthAdjust="spacingAndGlyphs" stroke="#fff" stroke-width="0.45">7</text>
</svg>
</body></html>
